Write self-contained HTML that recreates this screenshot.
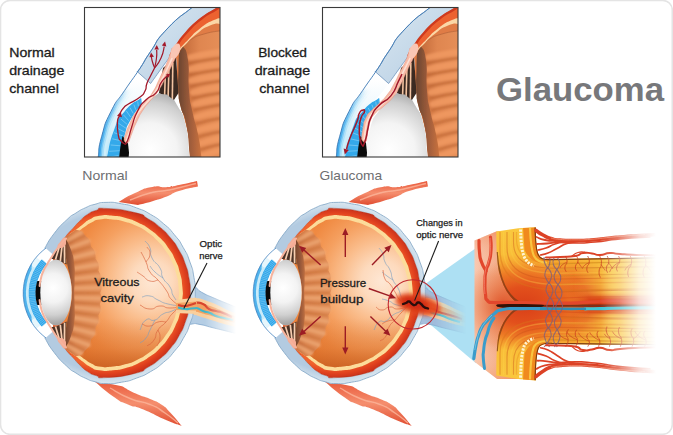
<!DOCTYPE html>
<html><head><meta charset="utf-8"><title>Glaucoma</title>
<style>
html,body{margin:0;padding:0;background:#fff;}
body{width:673px;height:435px;overflow:hidden;}
svg{display:block;}
text{font-family:"Liberation Sans",sans-serif;}
</style></head><body>
<svg width="673" height="435" viewBox="0 0 673 435">
<defs>

<linearGradient id="gSclera" x1="0" y1="0" x2="1" y2="1">
 <stop offset="0" stop-color="#dbe8f1"/><stop offset="1" stop-color="#b2cbe2"/>
</linearGradient>
<radialGradient id="gLensBox" cx="150" cy="150" r="60" gradientUnits="userSpaceOnUse">
 <stop offset="0" stop-color="#ffffff"/><stop offset="0.45" stop-color="#f4f4f4"/><stop offset="0.8" stop-color="#cfcfcf"/><stop offset="1" stop-color="#a8a8a8"/>
</radialGradient>
<linearGradient id="gCornBox" x1="0" y1="80" x2="0" y2="157" gradientUnits="userSpaceOnUse">
 <stop offset="0" stop-color="#ffffff"/><stop offset="0.45" stop-color="#eaf6fc"/><stop offset="1" stop-color="#b9e6f8"/>
</linearGradient>
<linearGradient id="gCornEdgeBox" x1="0" y1="85" x2="0" y2="157" gradientUnits="userSpaceOnUse">
 <stop offset="0" stop-color="#3aa5e6" stop-opacity="0"/><stop offset="0.5" stop-color="#3aa5e6" stop-opacity="0.7"/><stop offset="1" stop-color="#2f9fe8" stop-opacity="1"/>
</linearGradient>
<linearGradient id="gCilBox" x1="184" y1="0" x2="222" y2="0" gradientUnits="userSpaceOnUse">
 <stop offset="0" stop-color="#c66d3c"/><stop offset="0.4" stop-color="#df8650"/><stop offset="1" stop-color="#e68f58"/>
</linearGradient>
<linearGradient id="gBrownBox" x1="0" y1="0" x2="1" y2="0">
 <stop offset="0" stop-color="#6a4530"/><stop offset="0.45" stop-color="#9a5a3a"/><stop offset="1" stop-color="#cc733f"/>
</linearGradient>
<clipPath id="clipBox"><rect x="84.5" y="7.5" width="135.5" height="149.5"/></clipPath>


<radialGradient id="gVit" cx="152" cy="281" r="102" gradientUnits="userSpaceOnUse">
 <stop offset="0" stop-color="#fee7d4"/><stop offset="0.2" stop-color="#fddabd"/><stop offset="0.4" stop-color="#fabd8c"/><stop offset="0.6" stop-color="#f5a060"/><stop offset="0.8" stop-color="#f08a42"/><stop offset="1" stop-color="#eb7c32"/>
</radialGradient>
<radialGradient id="gScleraEye" cx="106" cy="293" r="92" gradientUnits="userSpaceOnUse">
 <stop offset="0.86" stop-color="#b3cbe1"/><stop offset="0.95" stop-color="#cfdfec"/><stop offset="1" stop-color="#dde9f2"/>
</radialGradient>
<radialGradient id="gChor" cx="106" cy="293" r="86" gradientUnits="userSpaceOnUse">
 <stop offset="0.86" stop-color="#f0642e"/><stop offset="0.93" stop-color="#e2431f"/><stop offset="1" stop-color="#c62f1a"/>
</radialGradient>
<radialGradient id="gLensEye" cx="53" cy="288" r="36" gradientUnits="userSpaceOnUse">
 <stop offset="0" stop-color="#ffffff"/><stop offset="0.4" stop-color="#f3f3f3"/><stop offset="0.75" stop-color="#d0d0d0"/><stop offset="1" stop-color="#a5a5a5"/>
</radialGradient>
<linearGradient id="gCilEye" x1="64" y1="0" x2="98" y2="0" gradientUnits="userSpaceOnUse">
 <stop offset="0" stop-color="#c26a3a"/><stop offset="0.35" stop-color="#d9824c"/><stop offset="1" stop-color="#e08c55"/>
</linearGradient>
<linearGradient id="gMuscle" x1="0" y1="0" x2="0" y2="1">
 <stop offset="0" stop-color="#e9583a"/><stop offset="0.5" stop-color="#f58e6e"/><stop offset="1" stop-color="#e04c30"/>
</linearGradient>
<linearGradient id="gFadeR" x1="205" y1="0" x2="236" y2="0" gradientUnits="userSpaceOnUse">
 <stop offset="0" stop-color="#fff"/><stop offset="1" stop-color="#000"/>
</linearGradient>
<mask id="mNerve" maskUnits="userSpaceOnUse" x="150" y="250" width="120" height="120"><rect x="150" y="250" width="120" height="120" fill="url(#gFadeR)"/></mask>


<linearGradient id="gFadeN" x1="600" y1="0" x2="656" y2="0" gradientUnits="userSpaceOnUse">
 <stop offset="0" stop-color="#fff"/><stop offset="0.35" stop-color="#aaa"/><stop offset="0.7" stop-color="#333"/><stop offset="1" stop-color="#000"/>
</linearGradient>
<mask id="mNS" maskUnits="userSpaceOnUse" x="460" y="210" width="213" height="190"><rect x="460" y="210" width="213" height="190" fill="url(#gFadeN)"/></mask>
<radialGradient id="gHot" cx="0.5" cy="0.5" r="0.5">
 <stop offset="0" stop-color="#d93f18"/><stop offset="0.4" stop-color="#e2501c"/><stop offset="0.7" stop-color="#ec7424" stop-opacity="0.8"/><stop offset="1" stop-color="#f4a030" stop-opacity="0"/>
</radialGradient>
<linearGradient id="gFace" x1="474" y1="0" x2="520" y2="0" gradientUnits="userSpaceOnUse">
 <stop offset="0" stop-color="#f8c6ad"/><stop offset="0.45" stop-color="#f4aa84"/><stop offset="1" stop-color="#ea8350"/>
</linearGradient>
<linearGradient id="gFaceV" x1="0" y1="232" x2="0" y2="380" gradientUnits="userSpaceOnUse">
 <stop offset="0" stop-color="#f08a5e" stop-opacity="0.5"/><stop offset="0.3" stop-color="#fff" stop-opacity="0"/><stop offset="0.75" stop-color="#fff" stop-opacity="0"/><stop offset="1" stop-color="#f4a070" stop-opacity="0.5"/>
</linearGradient>
<clipPath id="clipMassU"><path id="massU" d="M496.3 231.4 L518.3 228.3 L535.8 227.2 C536 240 536.5 250 539 255 C541 258.5 545 259.5 552 259 L673 257 L673 305.5 L522 305.5 C511 301 503 288 499 272 C497 262 496.3 250 496.3 231.4Z"/></clipPath>
<clipPath id="clipMassL"><path id="massL" d="M496.3 375.5 L518.3 379.1 L535.8 380.4 C536 365.4 536.5 353.6 539 347.8 C541 344.3 545 343.5 552 343.9 L673 345.6 L673 305.5 L522 305.5 C511 309.2 503 320.0 499 333.2 C497 341.5 496.3 353.6 496.3 375.5Z"/></clipPath>


<filter id="fBlur2" x="-30%" y="-30%" width="160%" height="160%"><feGaussianBlur stdDeviation="2"/></filter>
<filter id="fBlur1" x="-30%" y="-30%" width="160%" height="160%"><feGaussianBlur stdDeviation="1"/></filter>
<filter id="fBlur05" x="-10%" y="-10%" width="120%" height="120%"><feGaussianBlur stdDeviation="0.5"/></filter>


<linearGradient id="gMassV" x1="0" y1="228" x2="0" y2="383" gradientUnits="userSpaceOnUse">
 <stop offset="0" stop-color="#fac83e"/><stop offset="0.17" stop-color="#f9be38"/><stop offset="0.24" stop-color="#f4a02e"/><stop offset="0.31" stop-color="#ec7824"/><stop offset="0.39" stop-color="#e2521c"/><stop offset="0.5" stop-color="#d63c16"/>
 <stop offset="0.59" stop-color="#e2521c"/><stop offset="0.66" stop-color="#ec7824"/><stop offset="0.72" stop-color="#f4a02e"/><stop offset="0.79" stop-color="#f9be38"/><stop offset="1" stop-color="#fac83e"/>
</linearGradient>
<linearGradient id="gYelR" x1="574" y1="0" x2="612" y2="0" gradientUnits="userSpaceOnUse">
 <stop offset="0" stop-color="#fbce48" stop-opacity="0"/><stop offset="1" stop-color="#fbce48" stop-opacity="0.92"/>
</linearGradient>
<radialGradient id="gFaceHot" cx="503" cy="305.5" r="44" gradientUnits="userSpaceOnUse">
 <stop offset="0" stop-color="#dc4a22" stop-opacity="0.9"/><stop offset="0.45" stop-color="#e2602e" stop-opacity="0.5"/><stop offset="1" stop-color="#e8733a" stop-opacity="0"/>
</radialGradient>


<linearGradient id="gDarkFace" x1="64" y1="0" x2="77" y2="0" gradientUnits="userSpaceOnUse">
 <stop offset="0" stop-color="#6e4128"/><stop offset="0.5" stop-color="#98583a"/><stop offset="1" stop-color="#cf7843"/>
</linearGradient>


<linearGradient id="gCornFadeG" x1="0" y1="88" x2="0" y2="150" gradientUnits="userSpaceOnUse">
 <stop offset="0" stop-color="#000"/><stop offset="0.55" stop-color="#999"/><stop offset="1" stop-color="#fff"/>
</linearGradient>
<mask id="mCornFade" maskUnits="userSpaceOnUse" x="80" y="0" width="150" height="170"><rect x="80" y="0" width="150" height="170" fill="url(#gCornFadeG)"/></mask>


<linearGradient id="gVitShade" x1="0" y1="318" x2="0" y2="368" gradientUnits="userSpaceOnUse">
 <stop offset="0" stop-color="#c05a1c" stop-opacity="0"/><stop offset="0.6" stop-color="#c05a1c" stop-opacity="0.22"/><stop offset="1" stop-color="#b8521a" stop-opacity="0.6"/>
</linearGradient>

</defs>
<rect x="0.5" y="0.5" width="671.8" height="433.8" rx="9.5" fill="#fff" stroke="#e4e4e4" stroke-width="1.6"/>
<g id="box1"><g clip-path="url(#clipBox)">
<rect x="84" y="7" width="137" height="151" fill="#fff"/>
<path d="M137.0 71.4C132.8 77.8 133.2 77.4 124.5 90.7C115.8 104.0 118.6 96.2 111.0 111.4C103.4 126.6 106.0 121.1 101.7 136.3C97.4 151.5 99.6 148.4 98.2 157.0C96.8 165.6 97.7 160.3 97.5 162.0L106.0 162.0C106.3 160.3 104.3 167.7 107.0 157.0C109.7 146.3 108.2 145.2 114.0 130.0C119.8 114.8 116.2 122.1 124.5 111.4C132.8 100.7 130.3 107.3 139.0 98.0C147.7 88.7 146.7 88.3 150.6 83.5Z" fill="url(#gCornBox)"/>
<clipPath id="clipCorn0"><path d="M137.0 71.4C132.8 77.8 133.2 77.4 124.5 90.7C115.8 104.0 118.6 96.2 111.0 111.4C103.4 126.6 106.0 121.1 101.7 136.3C97.4 151.5 99.6 148.4 98.2 157.0C96.8 165.6 97.7 160.3 97.5 162.0L106.0 162.0C106.3 160.3 104.3 167.7 107.0 157.0C109.7 146.3 108.2 145.2 114.0 130.0C119.8 114.8 116.2 122.1 124.5 111.4C132.8 100.7 130.3 107.3 139.0 98.0C147.7 88.7 146.7 88.3 150.6 83.5Z"/></clipPath>
<g clip-path="url(#clipCorn0)" filter="url(#fBlur05)">
<path d="M137.0 71.4C132.8 77.8 133.2 77.4 124.5 90.7C115.8 104.0 118.6 96.2 111.0 111.4C103.4 126.6 106.0 121.1 101.7 136.3C97.4 151.5 99.6 148.4 98.2 157.0C96.8 165.6 97.7 160.3 97.5 162.0" fill="none" stroke="#cdeefa" stroke-width="15.0" stroke-opacity="1" mask="url(#mCornFade)"/>
<path d="M137.0 71.4C132.8 77.8 133.2 77.4 124.5 90.7C115.8 104.0 118.6 96.2 111.0 111.4C103.4 126.6 106.0 121.1 101.7 136.3C97.4 151.5 99.6 148.4 98.2 157.0C96.8 165.6 97.7 160.3 97.5 162.0" fill="none" stroke="#a9def7" stroke-width="10.5" stroke-opacity="1" mask="url(#mCornFade)"/>
<path d="M137.0 71.4C132.8 77.8 133.2 77.4 124.5 90.7C115.8 104.0 118.6 96.2 111.0 111.4C103.4 126.6 106.0 121.1 101.7 136.3C97.4 151.5 99.6 148.4 98.2 157.0C96.8 165.6 97.7 160.3 97.5 162.0" fill="none" stroke="#74c6f3" stroke-width="7.0" stroke-opacity="1" mask="url(#mCornFade)"/>
<path d="M137.0 71.4C132.8 77.8 133.2 77.4 124.5 90.7C115.8 104.0 118.6 96.2 111.0 111.4C103.4 126.6 106.0 121.1 101.7 136.3C97.4 151.5 99.6 148.4 98.2 157.0C96.8 165.6 97.7 160.3 97.5 162.0" fill="none" stroke="#40aaec" stroke-width="4.2" stroke-opacity="1" mask="url(#mCornFade)"/>
</g>
<path d="M199.0 2.0C196.7 3.8 202.7 -1.5 192.0 7.5C181.3 16.5 180.9 14.2 167.0 29.0C153.1 43.8 159.4 38.7 150.4 51.8C141.4 64.9 144.5 61.8 140.0 68.3C135.5 74.8 138.0 70.4 137.0 71.4 L150.6 83.5 C154.1 78.7 154.2 78.5 161.0 69.0C167.8 59.5 165.6 63.1 171.0 54.9C176.4 46.7 171.8 52.5 177.3 44.5C182.8 36.5 179.4 40.0 187.6 31.0C195.8 22.0 192.3 25.2 202.0 17.6C211.7 10.0 209.9 12.8 216.6 8.3C223.3 3.8 220.2 5.4 222.0 4.0 L222 0 Z" fill="url(#gSclera)" stroke="#5f88b5" stroke-width="0.7"/>
<path d="M199.0 2.0C196.7 3.8 202.7 -1.5 192.0 7.5C181.3 16.5 180.9 14.2 167.0 29.0C153.1 43.8 159.4 38.7 150.4 51.8C141.4 64.9 148.6 55.3 140.0 68.3C131.4 81.3 134.2 76.3 124.5 90.7C114.8 105.1 118.6 96.2 111.0 111.4C103.4 126.6 106.0 121.1 101.7 136.3C97.4 151.5 99.6 148.4 98.2 157.0C96.8 165.6 97.7 160.3 97.5 162.0" fill="none" stroke="#3c78b4" stroke-width="0.9"/>
<path d="M171.0 54.9C172.7 55.9 173.7 46.3 176.0 58.0C178.3 69.7 174.7 67.7 178.0 90.0C181.3 112.3 180.7 102.7 186.0 125.0C191.3 147.3 191.0 144.7 194.0 157.0C197.0 169.3 194.7 160.3 195.0 162.0 L222 162 L222 4 C173.1 51.4 171.8 52.5 177.3 44.5C182.8 36.5 179.4 40.0 187.6 31.0C195.8 22.0 192.3 25.2 202.0 17.6C211.7 10.0 209.9 12.8 216.6 8.3C223.3 3.8 220.2 5.4 222.0 4.0 Z" fill="#e07c46"/>
<path d="M179.0 53.0C180.3 50.7 179.0 50.5 183.0 46.0C187.0 41.5 184.0 43.5 191.0 39.5C198.0 35.5 193.7 37.0 204.0 34.0C214.3 31.0 216.0 31.7 222.0 30.5 L222 162 L190 162 C189.8 158.7 190.7 164.5 189.5 152.0C188.3 139.5 189.3 139.7 186.3 124.4C183.3 109.1 183.1 117.5 180.5 106.0C177.9 94.5 179.2 102.0 178.5 90.0C177.8 78.0 178.3 82.3 178.5 70.0C178.7 57.7 178.8 58.7 179.0 53.0 Z" fill="url(#gCilBox)"/>
<g filter="url(#fBlur1)">
<path d="M190.0 57.3 C198.0 55.3 212.0 52.9 224 51.5" fill="none" stroke="#f19a62" stroke-width="6" stroke-linecap="round" opacity="0.8"/>
<path d="M190.0 69.2 C198.0 67.2 212.0 64.9 224 63.5" fill="none" stroke="#f19a62" stroke-width="6" stroke-linecap="round" opacity="0.8"/>
<path d="M191.1 80.7 C199.1 78.7 212.0 76.3 224 74.9" fill="none" stroke="#f19a62" stroke-width="6" stroke-linecap="round" opacity="0.8"/>
<path d="M192.7 92.3 C200.7 90.3 212.0 87.9 224 86.5" fill="none" stroke="#f19a62" stroke-width="6" stroke-linecap="round" opacity="0.8"/>
<path d="M194.4 104.1 C202.4 102.1 212.0 99.8 224 98.3" fill="none" stroke="#f19a62" stroke-width="6" stroke-linecap="round" opacity="0.8"/>
<path d="M196.2 116.9 C204.2 114.9 212.0 112.5 224 111.1" fill="none" stroke="#f19a62" stroke-width="6" stroke-linecap="round" opacity="0.8"/>
<path d="M198.1 130.3 C206.1 128.3 212.0 126.0 224 124.5" fill="none" stroke="#f19a62" stroke-width="6" stroke-linecap="round" opacity="0.8"/>
<path d="M199.9 143.4 C207.9 141.4 212.0 139.0 224 137.6" fill="none" stroke="#f19a62" stroke-width="6" stroke-linecap="round" opacity="0.8"/>
<path d="M201.6 156.0 C209.6 154.0 212.0 151.6 224 150.2" fill="none" stroke="#f19a62" stroke-width="6" stroke-linecap="round" opacity="0.8"/>
<path d="M189.0 63.4 C197.0 61.4 212.0 59.0 224 57.6" fill="none" stroke="#b9602f" stroke-width="2.6" stroke-linecap="round" opacity="0.6"/>
<path d="M189.3 75.1 C197.3 73.1 212.0 70.7 224 69.3" fill="none" stroke="#b9602f" stroke-width="2.6" stroke-linecap="round" opacity="0.6"/>
<path d="M190.9 86.3 C198.9 84.3 212.0 81.9 224 80.5" fill="none" stroke="#b9602f" stroke-width="2.6" stroke-linecap="round" opacity="0.6"/>
<path d="M192.6 98.3 C200.6 96.3 212.0 93.9 224 92.5" fill="none" stroke="#b9602f" stroke-width="2.6" stroke-linecap="round" opacity="0.6"/>
<path d="M194.2 110.0 C202.2 108.0 212.0 105.6 224 104.2" fill="none" stroke="#b9602f" stroke-width="2.6" stroke-linecap="round" opacity="0.6"/>
<path d="M196.1 123.7 C204.1 121.7 212.0 119.3 224 117.9" fill="none" stroke="#b9602f" stroke-width="2.6" stroke-linecap="round" opacity="0.6"/>
<path d="M198.0 137.0 C206.0 135.0 212.0 132.6 224 131.2" fill="none" stroke="#b9602f" stroke-width="2.6" stroke-linecap="round" opacity="0.6"/>
<path d="M199.8 149.7 C207.8 147.7 212.0 145.3 224 143.9" fill="none" stroke="#b9602f" stroke-width="2.6" stroke-linecap="round" opacity="0.6"/>
</g>
<path d="M179.0 53.0C178.8 58.7 178.7 57.7 178.5 70.0C178.3 82.3 177.8 78.0 178.5 90.0C179.2 102.0 177.9 94.5 180.5 106.0C183.1 117.5 183.3 109.1 186.3 124.4C189.3 139.7 188.3 139.5 189.5 152.0C190.7 164.5 189.8 158.7 190.0 162.0 L202.0 162.0 C201.8 160.3 202.8 166.3 201.5 157.0C200.2 147.7 201.0 149.0 198.0 134.0C195.0 119.0 195.5 126.7 192.5 112.0C189.5 97.3 190.5 107.3 189.0 90.0C187.5 72.7 190.0 74.7 188.0 60.0C186.0 45.3 184.7 50.7 183.0 46.0 Z" fill="url(#gBrownBox)" filter="url(#fBlur05)"/>
<path d="M179.0 53.0C180.3 50.7 179.0 50.5 183.0 46.0C187.0 41.5 184.0 43.5 191.0 39.5C198.0 35.5 193.7 37.0 204.0 34.0C214.3 31.0 216.0 31.7 222.0 30.5" fill="none" stroke="#a85c34" stroke-width="0.8" opacity="0.7"/>
<path d="M222.0 24.0C218.0 24.5 218.7 22.0 210.0 25.5C201.3 29.0 204.0 28.3 196.0 34.5C188.0 40.7 191.0 39.2 186.0 44.0C181.0 48.8 184.3 45.0 181.0 49.0C177.7 53.0 177.7 53.7 176.0 56.0 L171 54.9 C173.1 51.4 171.8 52.5 177.3 44.5C182.8 36.5 179.4 40.0 187.6 31.0C195.8 22.0 192.3 25.2 202.0 17.6C211.7 10.0 209.9 12.8 216.6 8.3C223.3 3.8 220.2 5.4 222.0 4.0 Z" fill="#fbd7a6"/>
<path d="M222.0 18.5C219.3 19.0 221.3 16.7 214.0 20.0C206.7 23.3 208.7 21.8 200.0 28.5C191.3 35.2 194.7 33.3 188.0 40.0C181.3 46.7 185.0 43.0 180.0 48.5C175.0 54.0 175.3 53.8 173.0 56.5 L171 54.9 C173.1 51.4 171.8 52.5 177.3 44.5C182.8 36.5 179.4 40.0 187.6 31.0C195.8 22.0 192.3 25.2 202.0 17.6C211.7 10.0 209.9 12.8 216.6 8.3C223.3 3.8 220.2 5.4 222.0 4.0 Z" fill="#ec6230"/>
<path d="M221.2 5.2C219.4 6.6 222.5 5.0 215.8 9.5C209.1 14.0 210.9 11.2 201.2 18.8C191.5 26.4 195.0 23.2 186.8 32.2C178.6 41.2 182.0 37.7 176.5 45.7C171.0 53.7 172.3 52.6 170.2 56.1" fill="none" stroke="#cf3a1e" stroke-width="2.4"/>
<path d="M163 68 L176 57 L178.5 93 L172 103 L158 99 Z" fill="#3b2a22"/>
<path d="M165.5 69.0 L164.5 99.0" stroke="#f3c4a2" stroke-width="1.6"/>
<path d="M169.0 66.0 L168.0 100.0" stroke="#f3c4a2" stroke-width="1.6"/>
<path d="M172.8 63.0 L172.3 101.0" stroke="#f3c4a2" stroke-width="1.6"/>
<path d="M141.0 98.0C135.5 102.5 133.5 100.7 124.5 111.4C115.5 122.1 119.8 114.8 114.0 130.0C108.2 145.2 109.7 146.3 107.0 157.0C104.3 167.7 106.3 160.3 106.0 162.0 L119.0 162.0 C119.2 160.3 117.7 165.7 119.5 157.0C121.3 148.3 120.8 148.4 124.5 136.0C128.2 123.6 124.9 130.4 130.7 119.7C136.5 109.0 138.2 109.2 142.0 104.0 Z" fill="#34a9ea"/>
<path d="M141.5 98.5 L141.0 102.5" stroke="#8fd4f6" stroke-width="0.9" opacity="0.7"/>
<path d="M137.7 101.6 L138.4 106.1" stroke="#8fd4f6" stroke-width="0.9" opacity="0.7"/>
<path d="M133.9 104.7 L135.8 109.7" stroke="#8fd4f6" stroke-width="0.9" opacity="0.7"/>
<path d="M130.1 107.8 L133.2 113.4" stroke="#8fd4f6" stroke-width="0.9" opacity="0.7"/>
<path d="M126.3 110.9 L130.6 117.0" stroke="#8fd4f6" stroke-width="0.9" opacity="0.7"/>
<path d="M123.4 114.8 L128.7 120.7" stroke="#8fd4f6" stroke-width="0.9" opacity="0.7"/>
<path d="M121.0 119.1 L127.3 124.5" stroke="#8fd4f6" stroke-width="0.9" opacity="0.7"/>
<path d="M118.5 123.3 L125.9 128.2" stroke="#8fd4f6" stroke-width="0.9" opacity="0.7"/>
<path d="M116.1 127.6 L124.5 132.0" stroke="#8fd4f6" stroke-width="0.9" opacity="0.7"/>
<path d="M114.0 132.6 L123.1 136.1" stroke="#8fd4f6" stroke-width="0.9" opacity="0.7"/>
<path d="M112.3 138.8 L122.0 141.0" stroke="#8fd4f6" stroke-width="0.9" opacity="0.7"/>
<path d="M110.7 145.0 L120.8 145.8" stroke="#8fd4f6" stroke-width="0.9" opacity="0.7"/>
<path d="M109.1 151.3 L119.7 150.7" stroke="#8fd4f6" stroke-width="0.9" opacity="0.7"/>
<path d="M107.5 157.5 L118.5 155.5" stroke="#8fd4f6" stroke-width="0.9" opacity="0.7"/>
<path d="M122.5 136 L128 143 L130 162 L118.5 162 L120.5 146 Z" fill="#0a0a0a"/>
<path d="M128.5 162.0C128.6 160.3 127.6 167.7 128.7 157.0C129.8 146.3 127.4 145.9 131.8 130.0C136.2 114.1 134.3 120.6 142.0 109.3C149.7 98.0 148.0 101.0 155.0 96.0C162.0 91.0 157.8 93.8 163.0 94.3C168.2 94.8 165.6 93.6 170.5 97.5C175.4 101.4 172.6 97.0 177.6 106.0C182.6 115.0 181.8 109.1 185.6 124.4C189.4 139.7 187.7 139.5 189.0 152.0C190.3 164.5 189.3 158.7 189.5 162.0Z" fill="url(#gLensBox)"/>
<path d="M172.0 48.0C170.8 51.8 172.2 49.6 168.3 59.3C164.4 69.0 165.7 65.8 160.3 77.0C154.9 88.2 157.6 84.3 152.2 93.0C146.8 101.7 149.6 96.7 144.2 103.0C138.8 109.3 140.7 105.3 136.0 112.0C131.3 118.7 133.5 115.7 130.0 123.0C126.5 130.3 127.5 128.3 125.5 134.0C123.5 139.7 124.5 138.0 124.0 140.0 Q125.6 145.0 128.8 142.0 C129.9 139.0 129.3 140.0 132.0 133.0C134.7 126.0 133.3 128.7 137.0 121.0C140.7 113.3 138.7 116.7 143.0 110.0C147.3 103.3 145.1 107.2 150.0 101.0C154.9 94.8 152.5 99.5 157.8 91.5C163.1 83.5 159.8 88.8 166.0 77.0C172.2 65.2 172.1 65.0 176.4 56.0C180.7 47.0 178.1 52.0 179.0 50.0 Z" fill="#f8bba6" stroke="#e79280" stroke-width="0.5"/>
<path d="M172.4 57.6C169.3 64.1 168.9 65.5 163.2 77.0C157.4 88.5 160.3 83.9 155.0 92.2C149.7 100.6 152.3 95.8 147.1 102.0C141.9 108.2 144.0 104.3 139.5 111.0C135.0 117.7 137.1 114.5 133.5 122.0C129.9 129.5 131.1 127.2 128.8 133.5C126.4 139.8 127.2 138.5 126.4 141.0" fill="none" stroke="#fde3d8" stroke-width="1.6" opacity="0.9"/>
<ellipse cx="175.5" cy="51" rx="4.2" ry="8" transform="rotate(22 175.5 51)" fill="#f9c6b4"/>
<path d="M125.5 144.5C126.5 142.3 126.3 144.2 128.5 138.0C130.7 131.8 129.0 135.0 132.0 126.0C135.0 117.0 133.0 119.7 137.6 111.0C142.2 102.3 139.7 106.0 145.8 100.0C151.9 94.0 151.1 98.3 156.0 92.9C160.9 87.5 157.5 88.7 160.5 83.7C163.5 78.7 162.4 80.7 165.0 78.0C167.6 75.3 167.2 76.3 168.3 75.5" fill="none" stroke="#a3182a" stroke-width="1.3"/>
<path d="M0 -2.4 L2 1.8 L-2 1.8 Z" transform="translate(168.6 75) rotate(50)" fill="#a3182a"/>
<path d="M125.5 144.5C124.0 143.3 123.4 144.2 121.0 141.0C118.6 137.8 119.5 141.2 118.3 135.0C117.1 128.8 117.0 128.6 117.4 122.3C117.8 116.0 118.8 118.1 119.5 116.0" fill="none" stroke="#a3182a" stroke-width="1.3"/>
<path d="M0 -3 L2.6 2.2 L-2.6 2.2 Z" transform="translate(120 114.5) rotate(14)" fill="#a3182a"/>
<path d="M120.3 113.0C121.4 111.3 120.8 111.0 123.5 108.0C126.2 105.0 123.1 107.5 128.4 104.0C133.7 100.5 133.9 101.8 139.4 97.5C144.9 93.2 142.5 95.6 145.0 91.0C147.5 86.4 145.0 88.7 146.8 83.7C148.6 78.7 147.9 81.2 150.5 76.0C153.1 70.8 153.2 70.7 154.6 68.0" fill="none" stroke="#a3182a" stroke-width="1.3"/>
<path d="M154.6 68.0C153.9 66.0 153.6 65.7 152.5 62.0C151.4 58.3 151.8 58.7 151.4 57.0" fill="none" stroke="#a3182a" stroke-width="1.2"/>
<path d="M154.6 68.0C155.2 64.7 155.8 64.0 156.5 58.0C157.2 52.0 156.6 52.7 156.7 50.0" fill="none" stroke="#a3182a" stroke-width="1.2"/>
<path d="M154.6 68.0C156.7 64.7 157.8 65.2 161.0 58.0C164.2 50.8 163.2 50.3 164.3 46.5" fill="none" stroke="#a3182a" stroke-width="1.2"/>
<path d="M0 -2.6 L2.3 2 L-2.3 2 Z" transform="translate(151.4 55.0) rotate(-8)" fill="#a3182a"/>
<path d="M0 -2.6 L2.3 2 L-2.3 2 Z" transform="translate(156.7 47.5) rotate(2)" fill="#a3182a"/>
<path d="M0 -2.6 L2.3 2 L-2.3 2 Z" transform="translate(164.5 44.0) rotate(12)" fill="#a3182a"/>
</g>
<rect x="84.5" y="7.5" width="135.5" height="149.5" fill="none" stroke="#3a3a3a" stroke-width="1.1"/></g>
<g id="box2" transform="translate(238 0)"><g clip-path="url(#clipBox)">
<rect x="84" y="7" width="137" height="151" fill="#fff"/>
<path d="M137.0 71.4C132.8 77.8 133.2 77.4 124.5 90.7C115.8 104.0 118.6 96.2 111.0 111.4C103.4 126.6 106.0 121.1 101.7 136.3C97.4 151.5 99.6 148.4 98.2 157.0C96.8 165.6 97.7 160.3 97.5 162.0L106.0 162.0C106.3 160.3 104.3 167.7 107.0 157.0C109.7 146.3 108.2 145.2 114.0 130.0C119.8 114.8 116.2 122.1 124.5 111.4C132.8 100.7 130.3 107.3 139.0 98.0C147.7 88.7 146.7 88.3 150.6 83.5Z" fill="url(#gCornBox)"/>
<clipPath id="clipCorn1"><path d="M137.0 71.4C132.8 77.8 133.2 77.4 124.5 90.7C115.8 104.0 118.6 96.2 111.0 111.4C103.4 126.6 106.0 121.1 101.7 136.3C97.4 151.5 99.6 148.4 98.2 157.0C96.8 165.6 97.7 160.3 97.5 162.0L106.0 162.0C106.3 160.3 104.3 167.7 107.0 157.0C109.7 146.3 108.2 145.2 114.0 130.0C119.8 114.8 116.2 122.1 124.5 111.4C132.8 100.7 130.3 107.3 139.0 98.0C147.7 88.7 146.7 88.3 150.6 83.5Z"/></clipPath>
<g clip-path="url(#clipCorn1)" filter="url(#fBlur05)">
<path d="M137.0 71.4C132.8 77.8 133.2 77.4 124.5 90.7C115.8 104.0 118.6 96.2 111.0 111.4C103.4 126.6 106.0 121.1 101.7 136.3C97.4 151.5 99.6 148.4 98.2 157.0C96.8 165.6 97.7 160.3 97.5 162.0" fill="none" stroke="#cdeefa" stroke-width="15.0" stroke-opacity="1" mask="url(#mCornFade)"/>
<path d="M137.0 71.4C132.8 77.8 133.2 77.4 124.5 90.7C115.8 104.0 118.6 96.2 111.0 111.4C103.4 126.6 106.0 121.1 101.7 136.3C97.4 151.5 99.6 148.4 98.2 157.0C96.8 165.6 97.7 160.3 97.5 162.0" fill="none" stroke="#a9def7" stroke-width="10.5" stroke-opacity="1" mask="url(#mCornFade)"/>
<path d="M137.0 71.4C132.8 77.8 133.2 77.4 124.5 90.7C115.8 104.0 118.6 96.2 111.0 111.4C103.4 126.6 106.0 121.1 101.7 136.3C97.4 151.5 99.6 148.4 98.2 157.0C96.8 165.6 97.7 160.3 97.5 162.0" fill="none" stroke="#74c6f3" stroke-width="7.0" stroke-opacity="1" mask="url(#mCornFade)"/>
<path d="M137.0 71.4C132.8 77.8 133.2 77.4 124.5 90.7C115.8 104.0 118.6 96.2 111.0 111.4C103.4 126.6 106.0 121.1 101.7 136.3C97.4 151.5 99.6 148.4 98.2 157.0C96.8 165.6 97.7 160.3 97.5 162.0" fill="none" stroke="#40aaec" stroke-width="4.2" stroke-opacity="1" mask="url(#mCornFade)"/>
</g>
<path d="M199.0 2.0C196.7 3.8 202.7 -1.5 192.0 7.5C181.3 16.5 180.9 14.2 167.0 29.0C153.1 43.8 159.4 38.7 150.4 51.8C141.4 64.9 144.5 61.8 140.0 68.3C135.5 74.8 138.0 70.4 137.0 71.4 L150.6 83.5 C154.1 78.7 154.2 78.5 161.0 69.0C167.8 59.5 165.6 63.1 171.0 54.9C176.4 46.7 171.8 52.5 177.3 44.5C182.8 36.5 179.4 40.0 187.6 31.0C195.8 22.0 192.3 25.2 202.0 17.6C211.7 10.0 209.9 12.8 216.6 8.3C223.3 3.8 220.2 5.4 222.0 4.0 L222 0 Z" fill="url(#gSclera)" stroke="#5f88b5" stroke-width="0.7"/>
<path d="M199.0 2.0C196.7 3.8 202.7 -1.5 192.0 7.5C181.3 16.5 180.9 14.2 167.0 29.0C153.1 43.8 159.4 38.7 150.4 51.8C141.4 64.9 148.6 55.3 140.0 68.3C131.4 81.3 134.2 76.3 124.5 90.7C114.8 105.1 118.6 96.2 111.0 111.4C103.4 126.6 106.0 121.1 101.7 136.3C97.4 151.5 99.6 148.4 98.2 157.0C96.8 165.6 97.7 160.3 97.5 162.0" fill="none" stroke="#3c78b4" stroke-width="0.9"/>
<path d="M171.0 54.9C172.7 55.9 173.7 46.3 176.0 58.0C178.3 69.7 174.7 67.7 178.0 90.0C181.3 112.3 180.7 102.7 186.0 125.0C191.3 147.3 191.0 144.7 194.0 157.0C197.0 169.3 194.7 160.3 195.0 162.0 L222 162 L222 4 C173.1 51.4 171.8 52.5 177.3 44.5C182.8 36.5 179.4 40.0 187.6 31.0C195.8 22.0 192.3 25.2 202.0 17.6C211.7 10.0 209.9 12.8 216.6 8.3C223.3 3.8 220.2 5.4 222.0 4.0 Z" fill="#e07c46"/>
<path d="M179.0 53.0C180.3 50.7 179.0 50.5 183.0 46.0C187.0 41.5 184.0 43.5 191.0 39.5C198.0 35.5 193.7 37.0 204.0 34.0C214.3 31.0 216.0 31.7 222.0 30.5 L222 162 L190 162 C189.8 158.7 190.7 164.5 189.5 152.0C188.3 139.5 189.3 139.7 186.3 124.4C183.3 109.1 183.1 117.5 180.5 106.0C177.9 94.5 179.2 102.0 178.5 90.0C177.8 78.0 178.3 82.3 178.5 70.0C178.7 57.7 178.8 58.7 179.0 53.0 Z" fill="url(#gCilBox)"/>
<g filter="url(#fBlur1)">
<path d="M190.0 57.3 C198.0 55.3 212.0 52.9 224 51.5" fill="none" stroke="#f19a62" stroke-width="6" stroke-linecap="round" opacity="0.8"/>
<path d="M190.0 69.2 C198.0 67.2 212.0 64.9 224 63.5" fill="none" stroke="#f19a62" stroke-width="6" stroke-linecap="round" opacity="0.8"/>
<path d="M191.1 80.7 C199.1 78.7 212.0 76.3 224 74.9" fill="none" stroke="#f19a62" stroke-width="6" stroke-linecap="round" opacity="0.8"/>
<path d="M192.7 92.3 C200.7 90.3 212.0 87.9 224 86.5" fill="none" stroke="#f19a62" stroke-width="6" stroke-linecap="round" opacity="0.8"/>
<path d="M194.4 104.1 C202.4 102.1 212.0 99.8 224 98.3" fill="none" stroke="#f19a62" stroke-width="6" stroke-linecap="round" opacity="0.8"/>
<path d="M196.2 116.9 C204.2 114.9 212.0 112.5 224 111.1" fill="none" stroke="#f19a62" stroke-width="6" stroke-linecap="round" opacity="0.8"/>
<path d="M198.1 130.3 C206.1 128.3 212.0 126.0 224 124.5" fill="none" stroke="#f19a62" stroke-width="6" stroke-linecap="round" opacity="0.8"/>
<path d="M199.9 143.4 C207.9 141.4 212.0 139.0 224 137.6" fill="none" stroke="#f19a62" stroke-width="6" stroke-linecap="round" opacity="0.8"/>
<path d="M201.6 156.0 C209.6 154.0 212.0 151.6 224 150.2" fill="none" stroke="#f19a62" stroke-width="6" stroke-linecap="round" opacity="0.8"/>
<path d="M189.0 63.4 C197.0 61.4 212.0 59.0 224 57.6" fill="none" stroke="#b9602f" stroke-width="2.6" stroke-linecap="round" opacity="0.6"/>
<path d="M189.3 75.1 C197.3 73.1 212.0 70.7 224 69.3" fill="none" stroke="#b9602f" stroke-width="2.6" stroke-linecap="round" opacity="0.6"/>
<path d="M190.9 86.3 C198.9 84.3 212.0 81.9 224 80.5" fill="none" stroke="#b9602f" stroke-width="2.6" stroke-linecap="round" opacity="0.6"/>
<path d="M192.6 98.3 C200.6 96.3 212.0 93.9 224 92.5" fill="none" stroke="#b9602f" stroke-width="2.6" stroke-linecap="round" opacity="0.6"/>
<path d="M194.2 110.0 C202.2 108.0 212.0 105.6 224 104.2" fill="none" stroke="#b9602f" stroke-width="2.6" stroke-linecap="round" opacity="0.6"/>
<path d="M196.1 123.7 C204.1 121.7 212.0 119.3 224 117.9" fill="none" stroke="#b9602f" stroke-width="2.6" stroke-linecap="round" opacity="0.6"/>
<path d="M198.0 137.0 C206.0 135.0 212.0 132.6 224 131.2" fill="none" stroke="#b9602f" stroke-width="2.6" stroke-linecap="round" opacity="0.6"/>
<path d="M199.8 149.7 C207.8 147.7 212.0 145.3 224 143.9" fill="none" stroke="#b9602f" stroke-width="2.6" stroke-linecap="round" opacity="0.6"/>
</g>
<path d="M179.0 53.0C178.8 58.7 178.7 57.7 178.5 70.0C178.3 82.3 177.8 78.0 178.5 90.0C179.2 102.0 177.9 94.5 180.5 106.0C183.1 117.5 183.3 109.1 186.3 124.4C189.3 139.7 188.3 139.5 189.5 152.0C190.7 164.5 189.8 158.7 190.0 162.0 L202.0 162.0 C201.8 160.3 202.8 166.3 201.5 157.0C200.2 147.7 201.0 149.0 198.0 134.0C195.0 119.0 195.5 126.7 192.5 112.0C189.5 97.3 190.5 107.3 189.0 90.0C187.5 72.7 190.0 74.7 188.0 60.0C186.0 45.3 184.7 50.7 183.0 46.0 Z" fill="url(#gBrownBox)" filter="url(#fBlur05)"/>
<path d="M179.0 53.0C180.3 50.7 179.0 50.5 183.0 46.0C187.0 41.5 184.0 43.5 191.0 39.5C198.0 35.5 193.7 37.0 204.0 34.0C214.3 31.0 216.0 31.7 222.0 30.5" fill="none" stroke="#a85c34" stroke-width="0.8" opacity="0.7"/>
<path d="M222.0 24.0C218.0 24.5 218.7 22.0 210.0 25.5C201.3 29.0 204.0 28.3 196.0 34.5C188.0 40.7 191.0 39.2 186.0 44.0C181.0 48.8 184.3 45.0 181.0 49.0C177.7 53.0 177.7 53.7 176.0 56.0 L171 54.9 C173.1 51.4 171.8 52.5 177.3 44.5C182.8 36.5 179.4 40.0 187.6 31.0C195.8 22.0 192.3 25.2 202.0 17.6C211.7 10.0 209.9 12.8 216.6 8.3C223.3 3.8 220.2 5.4 222.0 4.0 Z" fill="#fbd7a6"/>
<path d="M222.0 18.5C219.3 19.0 221.3 16.7 214.0 20.0C206.7 23.3 208.7 21.8 200.0 28.5C191.3 35.2 194.7 33.3 188.0 40.0C181.3 46.7 185.0 43.0 180.0 48.5C175.0 54.0 175.3 53.8 173.0 56.5 L171 54.9 C173.1 51.4 171.8 52.5 177.3 44.5C182.8 36.5 179.4 40.0 187.6 31.0C195.8 22.0 192.3 25.2 202.0 17.6C211.7 10.0 209.9 12.8 216.6 8.3C223.3 3.8 220.2 5.4 222.0 4.0 Z" fill="#ec6230"/>
<path d="M221.2 5.2C219.4 6.6 222.5 5.0 215.8 9.5C209.1 14.0 210.9 11.2 201.2 18.8C191.5 26.4 195.0 23.2 186.8 32.2C178.6 41.2 182.0 37.7 176.5 45.7C171.0 53.7 172.3 52.6 170.2 56.1" fill="none" stroke="#cf3a1e" stroke-width="2.4"/>
<path d="M163 68 L176 57 L178.5 93 L172 103 L158 99 Z" fill="#3b2a22"/>
<path d="M165.5 69.0 L164.5 99.0" stroke="#f3c4a2" stroke-width="1.6"/>
<path d="M169.0 66.0 L168.0 100.0" stroke="#f3c4a2" stroke-width="1.6"/>
<path d="M172.8 63.0 L172.3 101.0" stroke="#f3c4a2" stroke-width="1.6"/>
<path d="M141.0 98.0C135.5 102.5 133.5 100.7 124.5 111.4C115.5 122.1 119.8 114.8 114.0 130.0C108.2 145.2 109.7 146.3 107.0 157.0C104.3 167.7 106.3 160.3 106.0 162.0 L119.0 162.0 C119.2 160.3 117.7 165.7 119.5 157.0C121.3 148.3 120.8 148.4 124.5 136.0C128.2 123.6 124.9 130.4 130.7 119.7C136.5 109.0 138.2 109.2 142.0 104.0 Z" fill="#34a9ea"/>
<path d="M141.5 98.5 L141.0 102.5" stroke="#8fd4f6" stroke-width="0.9" opacity="0.7"/>
<path d="M137.7 101.6 L138.4 106.1" stroke="#8fd4f6" stroke-width="0.9" opacity="0.7"/>
<path d="M133.9 104.7 L135.8 109.7" stroke="#8fd4f6" stroke-width="0.9" opacity="0.7"/>
<path d="M130.1 107.8 L133.2 113.4" stroke="#8fd4f6" stroke-width="0.9" opacity="0.7"/>
<path d="M126.3 110.9 L130.6 117.0" stroke="#8fd4f6" stroke-width="0.9" opacity="0.7"/>
<path d="M123.4 114.8 L128.7 120.7" stroke="#8fd4f6" stroke-width="0.9" opacity="0.7"/>
<path d="M121.0 119.1 L127.3 124.5" stroke="#8fd4f6" stroke-width="0.9" opacity="0.7"/>
<path d="M118.5 123.3 L125.9 128.2" stroke="#8fd4f6" stroke-width="0.9" opacity="0.7"/>
<path d="M116.1 127.6 L124.5 132.0" stroke="#8fd4f6" stroke-width="0.9" opacity="0.7"/>
<path d="M114.0 132.6 L123.1 136.1" stroke="#8fd4f6" stroke-width="0.9" opacity="0.7"/>
<path d="M112.3 138.8 L122.0 141.0" stroke="#8fd4f6" stroke-width="0.9" opacity="0.7"/>
<path d="M110.7 145.0 L120.8 145.8" stroke="#8fd4f6" stroke-width="0.9" opacity="0.7"/>
<path d="M109.1 151.3 L119.7 150.7" stroke="#8fd4f6" stroke-width="0.9" opacity="0.7"/>
<path d="M107.5 157.5 L118.5 155.5" stroke="#8fd4f6" stroke-width="0.9" opacity="0.7"/>
<path d="M122.5 136 L128 143 L130 162 L118.5 162 L120.5 146 Z" fill="#0a0a0a"/>
<path d="M128.5 162.0C128.6 160.3 127.6 167.7 128.7 157.0C129.8 146.3 127.4 145.9 131.8 130.0C136.2 114.1 134.3 120.6 142.0 109.3C149.7 98.0 148.0 101.0 155.0 96.0C162.0 91.0 157.8 93.8 163.0 94.3C168.2 94.8 165.6 93.6 170.5 97.5C175.4 101.4 172.6 97.0 177.6 106.0C182.6 115.0 181.8 109.1 185.6 124.4C189.4 139.7 187.7 139.5 189.0 152.0C190.3 164.5 189.3 158.7 189.5 162.0Z" fill="url(#gLensBox)"/>
<path d="M172.0 48.0C170.8 51.8 171.6 51.3 168.3 59.3C165.0 67.3 166.1 63.8 162.0 72.0C157.9 80.2 160.3 76.3 156.0 84.0C151.7 91.7 154.0 88.5 149.0 95.0C144.0 101.5 146.0 98.5 141.0 103.5C136.0 108.5 138.3 105.3 134.0 110.0C129.7 114.7 131.0 111.5 128.0 117.5C125.0 123.5 126.5 120.8 125.0 128.0C123.5 135.2 124.0 135.3 123.5 139.0 Q125.2 144.0 128.5 141.0 C129.0 137.7 128.8 137.3 130.0 131.0C131.2 124.7 129.7 127.8 132.0 122.0C134.3 116.2 132.3 118.8 137.0 113.5C141.7 108.2 139.8 111.7 146.0 106.0C152.2 100.3 150.2 103.2 155.5 96.5C160.8 89.8 157.7 94.2 162.0 86.0C166.3 77.8 163.7 82.0 168.5 72.0C173.3 62.0 172.9 63.3 176.4 56.0C179.9 48.7 178.1 52.0 179.0 50.0 Z" fill="#f8bba6" stroke="#e79280" stroke-width="0.5"/>
<path d="M172.4 57.6C170.0 62.4 169.7 62.9 165.2 72.0C160.8 81.1 163.3 77.1 159.0 85.0C154.7 92.9 157.4 89.2 152.2 95.8C147.1 102.3 149.1 99.4 143.5 104.8C137.9 110.1 140.0 106.8 135.5 111.8C131.0 116.8 132.7 113.8 130.0 119.8C127.3 125.7 128.8 122.8 127.5 129.5C126.2 136.2 126.5 136.5 126.0 140.0" fill="none" stroke="#fde3d8" stroke-width="1.6" opacity="0.9"/>
<ellipse cx="175.5" cy="51" rx="4.2" ry="8" transform="rotate(22 175.5 51)" fill="#f9c6b4"/>
<path d="M164.0 74.0C162.7 76.6 163.9 74.6 160.2 81.8C156.5 89.0 159.4 87.7 153.0 95.6C146.6 103.5 147.5 98.6 141.0 105.5C134.5 112.4 137.2 108.8 133.5 116.3C129.8 123.8 131.8 120.8 130.0 128.0C128.2 135.2 129.7 131.8 128.0 138.0C126.3 144.2 126.0 143.7 125.0 146.5" fill="none" stroke="#a3182a" stroke-width="1.5"/>
<path d="M125.0 146.5C124.1 144.3 123.5 145.8 122.3 140.0C121.1 134.2 121.1 136.3 121.3 129.0C121.5 121.7 121.3 123.7 123.0 118.0C124.7 112.3 126.1 114.4 126.5 111.8C126.9 109.2 126.0 109.6 124.2 110.3C122.4 111.0 122.8 110.1 121.0 114.0C119.2 117.9 121.8 114.0 118.8 122.0C115.8 130.0 115.4 129.0 112.0 138.0C108.6 147.0 109.7 145.3 108.5 149.0" fill="none" stroke="#a3182a" stroke-width="1.5"/>
<path d="M0 3 L2.7 -2.3 L-2.7 -2.3 Z" transform="translate(107.6 151.5) rotate(16)" fill="#a3182a"/>
</g>
<rect x="84.5" y="7.5" width="135.5" height="149.5" fill="none" stroke="#3a3a3a" stroke-width="1.1"/></g>
<path d="M402 300.4 L476 248 L476 363.2 Z" fill="#ade0f3"/>
<g id="eye1"><g mask="url(#mNerve)">
<path d="M186.0 280.0C188.3 281.5 189.3 281.7 193.0 284.5C196.7 287.3 193.7 285.7 197.0 288.5C200.3 291.3 197.0 289.7 203.0 293.0C209.0 296.3 205.8 294.5 215.0 298.5C224.2 302.5 220.7 300.8 230.7 305.0C240.7 309.2 240.2 309.0 245.0 311.0L240.0 334.5C235.0 333.2 234.3 333.0 225.0 330.7C215.7 328.4 220.3 329.6 212.0 327.5C203.7 325.4 206.7 325.7 200.0 324.5C193.3 323.3 196.7 323.3 192.0 324.0C187.3 324.7 190.0 324.5 186.0 326.5C182.0 328.5 182.0 328.8 180.0 330.0Z" fill="#b4cde4"/>
<path d="M186.0 280.0C188.3 281.5 189.3 281.7 193.0 284.5C196.7 287.3 193.7 285.7 197.0 288.5C200.3 291.3 197.0 289.7 203.0 293.0C209.0 296.3 205.8 294.5 215.0 298.5C224.2 302.5 220.7 300.8 230.7 305.0C240.7 309.2 240.2 309.0 245.0 311.0" fill="none" stroke="#7fa6cc" stroke-width="0.8"/>
<path d="M180.0 330.0C182.0 328.8 182.0 328.5 186.0 326.5C190.0 324.5 187.3 324.7 192.0 324.0C196.7 323.3 193.3 323.3 200.0 324.5C206.7 325.7 203.7 325.4 212.0 327.5C220.3 329.6 215.7 328.4 225.0 330.7C234.3 333.0 235.0 333.2 240.0 334.5" fill="none" stroke="#7fa6cc" stroke-width="0.8"/>
<path d="M180.0 297.0C184.3 297.2 183.0 295.8 193.0 297.5C203.0 299.2 197.0 297.2 210.0 302.0C223.0 306.8 220.3 307.0 232.0 312.0C243.7 317.0 240.7 315.3 245.0 317.0L245.0 329.0C239.3 327.7 240.3 328.3 228.0 325.0C215.7 321.7 220.7 322.7 208.0 319.0C195.3 315.3 199.3 315.7 190.0 314.0C180.7 312.3 183.3 314.0 180.0 314.0Z" fill="#f9cf9d"/>
<path d="M180.0 301.0C184.3 301.2 183.0 299.8 193.0 301.5C203.0 303.2 197.0 301.5 210.0 306.0C223.0 310.5 220.3 310.3 232.0 315.0C243.7 319.7 240.7 318.3 245.0 320.0L245.0 325.0C239.3 323.7 240.3 324.3 228.0 321.0C215.7 317.7 220.7 318.5 208.0 315.0C195.3 311.5 199.3 312.2 190.0 310.5C180.7 308.8 183.3 310.2 180.0 310.0Z" fill="#f4a060"/>
<path d="M181.0 305.0C183.3 305.3 183.3 306.7 188.0 306.0C192.7 305.3 190.0 303.7 195.0 303.0C200.0 302.3 198.3 302.0 203.0 304.0C207.7 306.0 204.7 306.7 209.0 309.0C213.3 311.3 211.3 309.7 216.0 311.0C220.7 312.3 217.7 311.0 223.0 313.0C228.3 315.0 229.0 315.7 232.0 317.0" fill="none" stroke="#d8452c" stroke-width="2.2"/>
<path d="M181.0 307.0C183.7 307.7 184.0 308.7 189.0 309.0C194.0 309.3 191.3 307.3 196.0 308.0C200.7 308.7 198.3 309.3 203.0 311.0C207.7 312.7 205.7 311.3 210.0 313.0C214.3 314.7 211.3 314.3 216.0 316.0C220.7 317.7 218.3 316.7 224.0 318.0C229.7 319.3 230.0 319.3 233.0 320.0" fill="none" stroke="#3fb6c8" stroke-width="2.2"/>
</g>
<path d="M118.5 202.0C124.0 199.0 123.7 198.0 135.0 193.0C146.3 188.0 142.1 188.9 152.4 187.0C162.7 185.1 157.1 187.9 166.0 187.2C174.9 186.5 168.7 187.1 179.0 185.0C189.3 182.9 191.0 182.3 197.0 181.0L198.0 186.4C191.7 187.9 189.7 187.5 179.0 191.0C168.3 194.5 174.9 193.4 166.0 196.8C157.1 200.2 161.7 198.5 152.4 201.2C143.1 203.9 142.8 203.7 138.0 205.0Z" fill="url(#gMuscle)"/>
<path d="M130.0 200.0C136.7 197.7 138.0 196.2 150.0 193.0C162.0 189.8 156.0 192.3 166.0 190.5C176.0 188.7 170.0 189.8 180.0 187.5C190.0 185.2 190.7 184.8 196.0 183.5" fill="none" stroke="#fbb59b" stroke-width="1.4" opacity="0.8"/>
<path d="M93.5 380.5C100.1 385.8 101.7 388.5 113.2 396.5C124.7 404.5 117.9 400.2 128.0 404.5C138.1 408.8 131.2 404.5 143.5 409.5C155.8 414.5 152.1 414.0 164.9 419.5C177.7 425.0 176.2 423.8 181.8 426.0L181.8 426.0C177.9 421.5 177.0 419.7 170.2 412.5C163.4 405.3 168.0 409.0 161.3 404.5C154.6 400.0 158.3 402.6 150.0 399.0C141.7 395.4 145.6 398.1 136.3 393.8C127.0 389.5 126.8 388.7 122.0 386.2Z" fill="url(#gMuscle)"/>
<path d="M110.0 388.0C116.7 391.5 116.7 393.0 130.0 398.5C143.3 404.0 138.3 399.7 150.0 404.5C161.7 409.3 155.7 406.8 165.0 413.0C174.3 419.2 173.7 419.7 178.0 423.0" fill="none" stroke="#fbb59b" stroke-width="1.4" opacity="0.8"/>
<path d="M23.3 293.0C23.3 288.9 23.3 292.2 24.4 286.9C25.5 281.6 24.5 283.6 26.7 277.2C28.9 270.8 27.4 274.0 30.9 267.6C34.4 261.2 32.5 264.4 37.1 258.0C41.7 251.6 39.0 256.5 44.7 248.3C50.4 240.1 46.9 242.8 54.3 233.3C61.7 223.8 59.6 226.6 66.8 219.8C74.0 213.0 69.8 217.0 76.0 213.0C82.2 209.0 79.1 210.7 85.4 207.8C91.7 204.9 88.1 206.1 95.0 204.3C101.9 202.5 97.2 202.6 106.0 202.4C114.8 202.2 111.3 202.0 121.5 203.8C131.7 205.6 126.8 204.3 136.5 207.9C146.3 211.5 141.7 209.3 150.7 214.5C159.6 219.8 155.5 216.9 163.4 223.6C171.3 230.3 167.8 226.7 174.4 234.8C181.1 242.8 178.2 238.6 183.3 247.7C188.5 256.8 186.4 252.2 189.9 262.0C193.5 271.9 192.1 266.9 193.9 277.3C195.7 287.6 195.3 282.5 195.3 293.0C195.3 303.5 195.7 298.4 193.9 308.7C192.1 319.1 193.5 314.1 189.9 324.0C186.4 333.8 188.5 329.2 183.3 338.3C178.2 347.4 181.1 343.2 174.4 351.2C167.8 359.3 171.3 355.7 163.4 362.4C155.5 369.1 159.6 366.2 150.7 371.5C141.7 376.7 146.3 374.5 136.5 378.1C126.8 381.7 131.7 380.4 121.5 382.2C111.3 384.0 114.8 383.8 106.0 383.6C97.2 383.4 101.9 383.5 95.0 381.7C88.1 379.9 91.7 381.1 85.4 378.2C79.1 375.3 82.2 377.0 76.0 373.0C69.8 369.0 74.0 373.0 66.8 366.2C59.6 359.4 61.7 362.2 54.3 352.7C46.9 343.2 50.4 345.9 44.7 337.7C39.0 329.5 41.7 334.4 37.1 328.0C32.5 321.6 34.4 324.8 30.9 318.4C27.4 312.0 28.9 315.2 26.7 308.8C24.5 302.4 25.5 304.4 24.4 299.1C23.3 293.8 23.3 297.1 23.3 293.0Z" fill="#ffffff"/>
<path d="M44.7 248.3C47.9 243.3 46.9 242.8 54.3 233.3C61.7 223.8 59.6 226.6 66.8 219.8C74.0 213.0 69.8 217.0 76.0 213.0C82.2 209.0 79.1 210.7 85.4 207.8C91.7 204.9 88.1 206.1 95.0 204.3C101.9 202.5 97.2 202.6 106.0 202.4C114.8 202.2 111.3 202.0 121.5 203.8C131.7 205.6 126.8 204.3 136.5 207.9C146.3 211.5 141.7 209.3 150.7 214.5C159.6 219.8 155.5 216.9 163.4 223.6C171.3 230.3 167.8 226.7 174.4 234.8C181.1 242.8 178.2 238.6 183.3 247.7C188.5 256.8 186.4 252.2 189.9 262.0C193.5 271.9 192.1 266.9 193.9 277.3C195.7 287.6 195.3 282.5 195.3 293.0C195.3 303.5 195.7 298.4 193.9 308.7C192.1 319.1 193.5 314.1 189.9 324.0C186.4 333.8 188.5 329.2 183.3 338.3C178.2 347.4 181.1 343.2 174.4 351.2C167.8 359.3 171.3 355.7 163.4 362.4C155.5 369.1 159.6 366.2 150.7 371.5C141.7 376.7 146.3 374.5 136.5 378.1C126.8 381.7 131.7 380.4 121.5 382.2C111.3 384.0 114.8 383.8 106.0 383.6C97.2 383.4 101.9 383.5 95.0 381.7C88.1 379.9 91.7 381.1 85.4 378.2C79.1 375.3 82.2 377.0 76.0 373.0C69.8 369.0 74.0 373.0 66.8 366.2C59.6 359.4 61.7 362.2 54.3 352.7C46.9 343.2 47.9 342.7 44.7 337.7L53.0 331.2C54.3 333.1 54.3 333.2 57.0 337.0C59.7 340.8 58.6 339.0 61.0 342.5C63.4 346.0 61.8 344.0 64.3 347.5C66.8 351.0 65.6 349.6 68.5 353.0C71.4 356.4 69.3 353.7 73.1 357.8C76.9 361.9 75.2 360.6 80.0 365.2C84.8 369.8 82.2 368.1 87.5 371.6C92.8 375.1 89.8 373.6 96.0 375.6C102.2 377.6 93.1 378.3 106.0 377.6C118.9 376.9 120.8 376.9 134.8 373.4C148.9 369.9 139.7 372.1 148.2 367.1C156.6 362.2 152.7 364.9 160.2 358.6C167.7 352.2 164.3 355.6 170.6 348.0C176.9 340.4 174.1 344.4 179.0 335.8C183.9 327.2 181.9 331.6 185.2 322.3C188.6 313.0 187.3 317.6 189.0 307.9C190.7 298.1 190.3 302.9 190.3 293.0C190.3 283.1 190.7 287.9 189.0 278.1C187.3 268.4 188.6 273.0 185.2 263.7C181.9 254.4 183.9 258.8 179.0 250.2C174.1 241.6 176.9 245.6 170.6 238.0C164.3 230.4 167.7 233.8 160.2 227.4C152.7 221.1 156.6 223.8 148.2 218.9C139.7 213.9 148.9 216.1 134.8 212.6C120.8 209.1 118.9 209.1 106.0 208.4C93.1 207.7 102.2 208.4 96.0 210.4C89.8 212.4 92.8 210.9 87.5 214.4C82.2 217.9 84.8 216.2 80.0 220.8C75.2 225.4 76.9 224.1 73.1 228.2C69.3 232.3 71.4 229.6 68.5 233.0C65.6 236.4 66.8 235.0 64.3 238.5C61.8 242.0 63.4 240.0 61.0 243.5C58.6 247.0 59.7 245.2 57.0 249.0C54.3 252.8 54.3 252.9 53.0 254.8Z" fill="url(#gScleraEye)"/>
<path d="M53.0 254.8C54.3 252.9 54.3 252.8 57.0 249.0C59.7 245.2 58.6 247.0 61.0 243.5C63.4 240.0 61.8 242.0 64.3 238.5C66.8 235.0 65.6 236.4 68.5 233.0C71.4 229.6 69.3 232.3 73.1 228.2C76.9 224.1 75.2 225.4 80.0 220.8C84.8 216.2 82.2 217.9 87.5 214.4C92.8 210.9 89.8 212.4 96.0 210.4C102.2 208.4 93.1 207.7 106.0 208.4C118.9 209.1 120.8 209.1 134.8 212.6C148.9 216.1 139.7 213.9 148.2 218.9C156.6 223.8 152.7 221.1 160.2 227.4C167.7 233.8 164.3 230.4 170.6 238.0C176.9 245.6 174.1 241.6 179.0 250.2C183.9 258.8 181.9 254.4 185.2 263.7C188.6 273.0 187.3 268.4 189.0 278.1C190.7 287.9 190.3 283.1 190.3 293.0C190.3 302.9 190.7 298.1 189.0 307.9C187.3 317.6 188.6 313.0 185.2 322.3C181.9 331.6 183.9 327.2 179.0 335.8C174.1 344.4 176.9 340.4 170.6 348.0C164.3 355.6 167.7 352.2 160.2 358.6C152.7 364.9 156.6 362.2 148.2 367.1C139.7 372.1 148.9 369.9 134.8 373.4C120.8 376.9 118.9 376.9 106.0 377.6C93.1 378.3 102.2 377.6 96.0 375.6C89.8 373.6 92.8 375.1 87.5 371.6C82.2 368.1 84.8 369.8 80.0 365.2C75.2 360.6 76.9 361.9 73.1 357.8C69.3 353.7 71.4 356.4 68.5 353.0C65.6 349.6 66.8 351.0 64.3 347.5C61.8 344.0 63.4 346.0 61.0 342.5C58.6 339.0 59.7 340.8 57.0 337.0C54.3 333.2 54.3 333.1 53.0 331.2Z" fill="url(#gChor)"/>
<path d="M63.8 239.5C65.7 237.7 65.8 237.3 69.6 234.2C73.4 231.1 70.7 233.6 75.2 230.3C79.7 227.0 78.1 227.9 83.0 224.2C87.9 220.5 84.6 222.1 90.0 219.3C95.4 216.5 91.8 216.9 99.3 215.7C106.9 214.5 103.8 214.9 112.7 215.7C121.5 216.5 117.3 215.7 125.8 218.0C134.4 220.4 130.3 218.9 138.4 222.7C146.4 226.5 142.7 224.3 149.9 229.4C157.2 234.6 153.9 231.8 160.2 238.1C166.4 244.5 163.7 241.1 168.7 248.5C173.8 255.8 171.7 252.1 175.4 260.2C179.2 268.3 177.7 264.2 180.0 272.9C182.3 281.6 181.5 277.3 182.3 286.2C183.1 295.2 183.1 290.8 182.3 299.8C181.5 308.7 182.3 304.4 180.0 313.1C177.7 321.8 179.2 317.7 175.4 325.8C171.7 333.9 173.8 330.2 168.7 337.5C163.7 344.9 166.4 341.5 160.2 347.9C153.9 354.2 157.2 351.4 149.9 356.6C142.7 361.7 146.4 359.5 138.4 363.3C130.3 367.1 134.4 365.6 125.8 368.0C117.3 370.3 121.5 369.5 112.7 370.3C103.8 371.1 106.9 371.5 99.3 370.3C91.8 369.1 95.4 369.5 90.0 366.7C84.6 363.9 87.9 365.5 83.0 361.8C78.1 358.1 79.7 359.0 75.2 355.7C70.7 352.4 73.4 354.9 69.6 351.8C65.8 348.7 65.7 348.3 63.8 346.5Z" fill="#fcdc9a"/>
<path d="M64.0 240.8C66.3 239.1 66.5 238.6 70.8 235.8C75.1 233.0 72.1 235.5 76.8 232.5C81.5 229.5 79.9 230.1 84.8 226.8C89.7 223.5 86.5 225.0 91.5 222.6C96.5 220.2 92.7 220.5 99.7 219.5C106.6 218.4 103.9 218.7 112.3 219.5C120.7 220.2 116.7 219.5 124.8 221.7C133.0 223.9 129.1 222.5 136.8 226.1C144.4 229.7 140.9 227.6 147.8 232.5C154.7 237.4 151.5 234.8 157.5 240.8C163.4 246.9 160.8 243.7 165.6 250.7C170.5 257.7 168.4 254.1 172.0 261.8C175.5 269.6 174.1 265.6 176.3 273.9C178.5 282.2 177.8 278.1 178.5 286.6C179.3 295.1 179.3 290.9 178.5 299.4C177.8 307.9 178.5 303.8 176.3 312.1C174.1 320.4 175.5 316.4 172.0 324.2C168.4 331.9 170.5 328.3 165.6 335.3C160.8 342.3 163.4 339.1 157.5 345.2C151.5 351.2 154.7 348.6 147.8 353.5C140.9 358.4 144.4 356.3 136.8 359.9C129.1 363.5 133.0 362.1 124.8 364.3C116.7 366.5 120.7 365.8 112.3 366.5C103.9 367.3 106.6 367.6 99.7 366.5C92.7 365.5 96.5 365.8 91.5 363.4C86.5 361.0 89.7 362.5 84.8 359.2C79.9 355.9 81.5 356.5 76.8 353.5C72.1 350.5 75.1 353.0 70.8 350.2C66.5 347.4 66.3 346.9 64.0 345.2Z" fill="url(#gVit)"/>
<path d="M64.0 240.8C66.3 239.1 66.5 238.6 70.8 235.8C75.1 233.0 72.1 235.5 76.8 232.5C81.5 229.5 79.9 230.1 84.8 226.8C89.7 223.5 86.5 225.0 91.5 222.6C96.5 220.2 92.7 220.5 99.7 219.5C106.6 218.4 103.9 218.7 112.3 219.5C120.7 220.2 116.7 219.5 124.8 221.7C133.0 223.9 129.1 222.5 136.8 226.1C144.4 229.7 140.9 227.6 147.8 232.5C154.7 237.4 151.5 234.8 157.5 240.8C163.4 246.9 160.8 243.7 165.6 250.7C170.5 257.7 168.4 254.1 172.0 261.8C175.5 269.6 174.1 265.6 176.3 273.9C178.5 282.2 177.8 278.1 178.5 286.6C179.3 295.1 179.3 290.9 178.5 299.4C177.8 307.9 178.5 303.8 176.3 312.1C174.1 320.4 175.5 316.4 172.0 324.2C168.4 331.9 170.5 328.3 165.6 335.3C160.8 342.3 163.4 339.1 157.5 345.2C151.5 351.2 154.7 348.6 147.8 353.5C140.9 358.4 144.4 356.3 136.8 359.9C129.1 363.5 133.0 362.1 124.8 364.3C116.7 366.5 120.7 365.8 112.3 366.5C103.9 367.3 106.6 367.6 99.7 366.5C92.7 365.5 96.5 365.8 91.5 363.4C86.5 361.0 89.7 362.5 84.8 359.2C79.9 355.9 81.5 356.5 76.8 353.5C72.1 350.5 75.1 353.0 70.8 350.2C66.5 347.4 66.3 346.9 64.0 345.2Z" fill="url(#gVitShade)"/>
<path d="M44.7 248.3C47.9 243.3 46.9 242.8 54.3 233.3C61.7 223.8 59.6 226.6 66.8 219.8C74.0 213.0 69.8 217.0 76.0 213.0C82.2 209.0 79.1 210.7 85.4 207.8C91.7 204.9 88.1 206.1 95.0 204.3C101.9 202.5 97.2 202.6 106.0 202.4C114.8 202.2 111.3 202.0 121.5 203.8C131.7 205.6 126.8 204.3 136.5 207.9C146.3 211.5 141.7 209.3 150.7 214.5C159.6 219.8 155.5 216.9 163.4 223.6C171.3 230.3 167.8 226.7 174.4 234.8C181.1 242.8 178.2 238.6 183.3 247.7C188.5 256.8 186.4 252.2 189.9 262.0C193.5 271.9 192.1 266.9 193.9 277.3C195.7 287.6 195.3 282.5 195.3 293.0C195.3 303.5 195.7 298.4 193.9 308.7C192.1 319.1 193.5 314.1 189.9 324.0C186.4 333.8 188.5 329.2 183.3 338.3C178.2 347.4 181.1 343.2 174.4 351.2C167.8 359.3 171.3 355.7 163.4 362.4C155.5 369.1 159.6 366.2 150.7 371.5C141.7 376.7 146.3 374.5 136.5 378.1C126.8 381.7 131.7 380.4 121.5 382.2C111.3 384.0 114.8 383.8 106.0 383.6C97.2 383.4 101.9 383.5 95.0 381.7C88.1 379.9 91.7 381.1 85.4 378.2C79.1 375.3 82.2 377.0 76.0 373.0C69.8 369.0 74.0 373.0 66.8 366.2C59.6 359.4 61.7 362.2 54.3 352.7C46.9 343.2 47.9 342.7 44.7 337.7" fill="none" stroke="#88aac8" stroke-width="0.9"/>
<path d="M53.0 254.8C54.3 252.9 54.3 252.8 57.0 249.0C59.7 245.2 58.6 247.0 61.0 243.5C63.4 240.0 61.8 242.0 64.3 238.5C66.8 235.0 65.6 236.4 68.5 233.0C71.4 229.6 69.3 232.3 73.1 228.2C76.9 224.1 75.2 225.4 80.0 220.8C84.8 216.2 82.2 217.9 87.5 214.4C92.8 210.9 89.8 212.4 96.0 210.4C102.2 208.4 93.1 207.7 106.0 208.4C118.9 209.1 120.8 209.1 134.8 212.6C148.9 216.1 139.7 213.9 148.2 218.9C156.6 223.8 152.7 221.1 160.2 227.4C167.7 233.8 164.3 230.4 170.6 238.0C176.9 245.6 174.1 241.6 179.0 250.2C183.9 258.8 181.9 254.4 185.2 263.7C188.6 273.0 187.3 268.4 189.0 278.1C190.7 287.9 190.3 283.1 190.3 293.0C190.3 302.9 190.7 298.1 189.0 307.9C187.3 317.6 188.6 313.0 185.2 322.3C181.9 331.6 183.9 327.2 179.0 335.8C174.1 344.4 176.9 340.4 170.6 348.0C164.3 355.6 167.7 352.2 160.2 358.6C152.7 364.9 156.6 362.2 148.2 367.1C139.7 372.1 148.9 369.9 134.8 373.4C120.8 376.9 118.9 376.9 106.0 377.6C93.1 378.3 102.2 377.6 96.0 375.6C89.8 373.6 92.8 375.1 87.5 371.6C82.2 368.1 84.8 369.8 80.0 365.2C75.2 360.6 76.9 361.9 73.1 357.8C69.3 353.7 71.4 356.4 68.5 353.0C65.6 349.6 66.8 351.0 64.3 347.5C61.8 344.0 63.4 346.0 61.0 342.5C58.6 339.0 59.7 340.8 57.0 337.0C54.3 333.2 54.3 333.1 53.0 331.2" fill="none" stroke="#9b2f1c" stroke-width="0.7" opacity="0.6"/>
<path d="M182.0 306.0C179.3 303.0 178.0 303.3 174.0 297.0C170.0 290.7 173.7 293.3 170.0 287.0C166.3 280.7 166.3 284.3 163.0 278.0C159.7 271.7 163.7 274.7 160.0 268.0C156.3 261.3 155.3 264.7 152.0 258.0C148.7 251.3 152.3 253.7 150.0 248.0C147.7 242.3 146.7 243.3 145.0 241.0" fill="none" stroke="#7a9ebf" stroke-width="0.8" opacity="0.8"/>
<path d="M163.0 278.0C160.3 276.0 159.3 276.0 155.0 272.0C150.7 268.0 151.7 268.0 150.0 266.0" fill="none" stroke="#7a9ebf" stroke-width="0.8" opacity="0.8"/>
<path d="M182.0 306.0C177.3 305.3 176.0 306.0 168.0 304.0C160.0 302.0 164.0 302.7 158.0 300.0C152.0 297.3 155.3 297.0 150.0 296.0C144.7 295.0 144.7 296.7 142.0 297.0" fill="none" stroke="#7a9ebf" stroke-width="0.8" opacity="0.8"/>
<path d="M182.0 306.0C178.7 307.7 178.3 308.3 172.0 311.0C165.7 313.7 168.7 311.0 163.0 314.0C157.3 317.0 160.7 318.0 155.0 320.0C149.3 322.0 151.0 316.7 146.0 320.0C141.0 323.3 142.0 326.7 140.0 330.0" fill="none" stroke="#7a9ebf" stroke-width="0.8" opacity="0.8"/>
<path d="M155.0 320.0C153.3 323.3 153.0 324.0 150.0 330.0C147.0 336.0 149.3 333.7 146.0 338.0C142.7 342.3 142.0 341.3 140.0 343.0" fill="none" stroke="#7a9ebf" stroke-width="0.8" opacity="0.8"/>
<path d="M182.0 306.0C178.7 304.0 177.3 305.3 172.0 300.0C166.7 294.7 170.7 296.7 166.0 290.0C161.3 283.3 163.3 286.0 158.0 280.0C152.7 274.0 154.0 278.0 150.0 272.0C146.0 266.0 149.0 268.7 146.0 262.0C143.0 255.3 142.7 255.3 141.0 252.0" fill="none" stroke="#d8603a" stroke-width="0.8" opacity="0.8"/>
<path d="M158.0 280.0C155.3 280.3 155.0 282.3 150.0 281.0C145.0 279.7 147.3 279.0 143.0 276.0C138.7 273.0 139.0 273.3 137.0 272.0" fill="none" stroke="#d8603a" stroke-width="0.8" opacity="0.8"/>
<path d="M146.0 262.0C147.3 259.3 149.7 259.0 150.0 254.0C150.3 249.0 148.0 249.3 147.0 247.0" fill="none" stroke="#d8603a" stroke-width="0.8" opacity="0.8"/>
<path d="M182.0 306.0C178.0 306.7 177.3 308.0 170.0 308.0C162.7 308.0 166.7 305.7 160.0 306.0C153.3 306.3 156.7 309.3 150.0 309.0C143.3 308.7 143.3 306.3 140.0 305.0" fill="none" stroke="#d8603a" stroke-width="0.8" opacity="0.8"/>
<path d="M182.0 306.0C179.0 308.3 178.3 307.7 173.0 313.0C167.7 318.3 171.0 316.3 166.0 322.0C161.0 327.7 162.0 324.0 158.0 330.0C154.0 336.0 157.7 334.7 154.0 340.0C150.3 345.3 149.3 344.0 147.0 346.0" fill="none" stroke="#d8603a" stroke-width="0.8" opacity="0.8"/>
<path d="M166.0 322.0C163.3 322.0 163.3 320.7 158.0 322.0C152.7 323.3 155.3 325.3 150.0 326.0C144.7 326.7 144.7 324.7 142.0 324.0" fill="none" stroke="#d8603a" stroke-width="0.8" opacity="0.8"/>
<path d="M158.0 330.0C158.7 332.7 160.3 332.7 160.0 338.0C159.7 343.3 158.0 343.3 157.0 346.0" fill="none" stroke="#d8603a" stroke-width="0.8" opacity="0.8"/>
<path d="M176 300 L196 297.5 L196 314 L176 313 Z" fill="#f9cf9d"/>
<path d="M176 303 L197 301.5 L197 310.5 L176 310 Z" fill="#f4a565"/>
<path d="M178.0 305.0C180.0 305.3 180.0 306.0 184.0 306.0C188.0 306.0 186.0 306.0 190.0 305.0C194.0 304.0 194.0 303.7 196.0 303.0" fill="none" stroke="#d8452c" stroke-width="2.2"/>
<path d="M178.0 307.5C180.3 308.0 180.7 308.7 185.0 309.0C189.3 309.3 187.0 308.8 191.0 308.5C195.0 308.2 195.0 308.2 197.0 308.0" fill="none" stroke="#3fb6c8" stroke-width="2.2"/>
<path d="M64.3 238.0L75.6 229.8Q82.0 229.9 85.0 235.5Q90.8 239.5 91.0 246.5Q96.2 251.4 95.5 258.5Q100.0 263.8 98.3 270.5Q102.2 275.8 99.8 282.0Q103.2 287.4 100.2 293.0Q103.2 298.6 99.8 304.0Q102.2 310.2 98.3 315.5Q100.0 322.2 95.5 327.5Q96.2 334.6 91.0 339.5Q90.8 346.5 85.0 350.5Q82.0 356.1 75.6 356.2L64.3 348.0C65.2 344.0 64.9 346.0 67.0 336.0C69.1 326.0 68.6 332.3 70.5 318.0C72.4 303.7 72.6 309.7 72.6 293.0C72.6 276.3 72.4 282.3 70.5 268.0C68.6 253.7 69.1 260.0 67.0 250.0C64.9 240.0 65.2 242.0 64.3 238.0Z" fill="url(#gCilEye)"/>
<g filter="url(#fBlur1)">
<path d="M80.8 232.7 L66.4 241.1" stroke="#eeaa78" stroke-width="4.4" stroke-linecap="round" opacity="0.7"/>
<path d="M88.5 241.0 L68.7 248.3" stroke="#eeaa78" stroke-width="4.4" stroke-linecap="round" opacity="0.7"/>
<path d="M93.8 252.5 L71.4 258.2" stroke="#eeaa78" stroke-width="4.4" stroke-linecap="round" opacity="0.7"/>
<path d="M97.4 264.5 L73.5 268.5" stroke="#eeaa78" stroke-width="4.4" stroke-linecap="round" opacity="0.7"/>
<path d="M99.5 276.2 L74.8 278.6" stroke="#eeaa78" stroke-width="4.4" stroke-linecap="round" opacity="0.7"/>
<path d="M100.5 287.5 L75.4 288.3" stroke="#eeaa78" stroke-width="4.4" stroke-linecap="round" opacity="0.7"/>
<path d="M100.5 298.5 L75.4 297.7" stroke="#eeaa78" stroke-width="4.4" stroke-linecap="round" opacity="0.7"/>
<path d="M99.5 309.8 L74.8 307.4" stroke="#eeaa78" stroke-width="4.4" stroke-linecap="round" opacity="0.7"/>
<path d="M97.4 321.5 L73.5 317.5" stroke="#eeaa78" stroke-width="4.4" stroke-linecap="round" opacity="0.7"/>
<path d="M93.8 333.5 L71.4 327.8" stroke="#eeaa78" stroke-width="4.4" stroke-linecap="round" opacity="0.7"/>
<path d="M88.5 345.0 L68.7 337.7" stroke="#eeaa78" stroke-width="4.4" stroke-linecap="round" opacity="0.7"/>
<path d="M80.8 353.4 L66.4 344.9" stroke="#eeaa78" stroke-width="4.4" stroke-linecap="round" opacity="0.7"/>
<path d="M85.0 235.5 L66.2 243.6" stroke="#b8622f" stroke-width="1.6" opacity="0.45"/>
<path d="M91.0 246.5 L69.1 253.0" stroke="#b8622f" stroke-width="1.6" opacity="0.45"/>
<path d="M95.5 258.5 L71.5 263.3" stroke="#b8622f" stroke-width="1.6" opacity="0.45"/>
<path d="M98.3 270.5 L73.2 273.6" stroke="#b8622f" stroke-width="1.6" opacity="0.45"/>
<path d="M99.8 282.0 L74.2 283.5" stroke="#b8622f" stroke-width="1.6" opacity="0.45"/>
<path d="M100.2 293.0 L74.5 293.0" stroke="#b8622f" stroke-width="1.6" opacity="0.45"/>
<path d="M99.8 304.0 L74.2 302.5" stroke="#b8622f" stroke-width="1.6" opacity="0.45"/>
<path d="M98.3 315.5 L73.2 312.4" stroke="#b8622f" stroke-width="1.6" opacity="0.45"/>
<path d="M95.5 327.5 L71.5 322.7" stroke="#b8622f" stroke-width="1.6" opacity="0.45"/>
<path d="M91.0 339.5 L69.1 333.0" stroke="#b8622f" stroke-width="1.6" opacity="0.45"/>
<path d="M85.0 350.5 L66.2 342.4" stroke="#b8622f" stroke-width="1.6" opacity="0.45"/>
</g>
<path d="M64.3 238.5C64.5 242.3 63.9 241.8 64.8 250.0C65.7 258.2 65.1 253.0 67.0 263.0C68.9 273.0 69.0 270.0 70.6 280.0C72.2 290.0 71.8 284.3 71.8 293.0C71.8 301.7 72.2 296.0 70.6 306.0C69.0 316.0 68.9 313.0 67.0 323.0C65.1 333.0 65.7 327.8 64.8 336.0C63.9 344.2 64.5 343.7 64.3 347.5L65.5 347.5C67.3 343.7 68.1 344.5 71.0 336.0C73.9 327.5 73.0 332.0 74.2 322.0C75.4 312.0 74.6 315.7 74.6 306.0C74.6 296.3 74.2 301.7 74.2 293.0C74.2 284.3 74.6 289.7 74.6 280.0C74.6 270.3 75.4 274.0 74.2 264.0C73.0 254.0 73.9 258.5 71.0 250.0C68.1 241.5 67.3 242.3 65.5 238.5Z" fill="url(#gDarkFace)"/>
<path d="M64.0 239.5L50.6 258.8L56.0 259.5L66.7 264.5L64.8 250.0Z" fill="#4a3226"/>
<path d="M59.6 246.0 L55.5 259.6" stroke="#f6cdb0" stroke-width="1.7"/>
<path d="M62.3 243.5 L60.3 261.2" stroke="#f6cdb0" stroke-width="1.7"/>
<path d="M64.4 242.0 L64.6 263.2" stroke="#f6cdb0" stroke-width="1.7"/>
<path d="M64.5 237.5C62.7 237.7 62.8 238.5 60.5 241.5C58.2 244.5 57.7 244.3 57.5 246.5C57.3 248.7 57.7 248.2 60.0 248.0C62.3 247.8 62.5 248.3 64.5 246.0C66.5 243.7 66.0 243.8 66.0 241.0C66.0 238.2 66.3 237.3 64.5 237.5Z" fill="#f5ad96"/>
<path d="M64.0 346.5L50.6 327.2L56.0 326.5L66.7 321.5L64.8 336.0Z" fill="#4a3226"/>
<path d="M59.6 340.0 L55.5 326.4" stroke="#f6cdb0" stroke-width="1.7"/>
<path d="M62.3 342.5 L60.3 324.8" stroke="#f6cdb0" stroke-width="1.7"/>
<path d="M64.4 344.0 L64.6 322.8" stroke="#f6cdb0" stroke-width="1.7"/>
<path d="M64.5 348.5C62.7 348.3 62.8 347.5 60.5 344.5C58.2 341.5 57.7 341.7 57.5 339.5C57.3 337.3 57.7 337.8 60.0 338.0C62.3 338.2 62.5 337.7 64.5 340.0C66.5 342.3 66.0 342.2 66.0 345.0C66.0 347.8 66.3 348.7 64.5 348.5Z" fill="#f5ad96"/>
<path d="M45.9 248.2C44.2 249.6 44.0 249.4 40.9 252.4C37.7 255.3 39.2 253.8 36.4 257.1C33.6 260.4 34.9 258.7 32.5 262.3C30.1 265.9 31.2 264.1 29.3 267.9C27.3 271.8 28.2 269.8 26.7 273.9C25.2 278.0 25.8 275.9 24.8 280.1C23.8 284.3 24.2 282.2 23.7 286.5C23.2 290.8 23.3 288.7 23.3 293.0C23.3 297.3 23.2 295.2 23.7 299.5C24.2 303.8 23.8 301.7 24.8 305.9C25.8 310.1 25.2 308.0 26.7 312.1C28.2 316.2 27.3 314.2 29.3 318.1C31.2 321.9 30.1 320.1 32.5 323.7C34.9 327.3 33.6 325.6 36.4 328.9C39.2 332.2 37.7 330.7 40.9 333.6C44.0 336.6 44.2 336.4 45.9 337.8L53.0 331.2C50.3 330.7 48.9 331.5 44.9 329.6C40.9 327.6 43.4 328.3 40.9 325.3C38.3 322.4 39.5 323.9 37.3 320.6C35.2 317.4 36.2 319.1 34.4 315.6C32.6 312.1 33.4 313.9 32.1 310.2C30.7 306.6 31.3 308.4 30.4 304.6C29.5 300.8 29.8 302.7 29.3 298.8C28.9 295.0 29.0 296.9 29.0 293.0C29.0 289.1 28.9 291.0 29.3 287.2C29.8 283.3 29.5 285.2 30.4 281.4C31.3 277.6 30.7 279.4 32.1 275.8C33.4 272.1 32.6 273.9 34.4 270.4C36.2 266.9 35.2 268.6 37.3 265.4C39.5 262.1 38.3 263.6 40.9 260.7C43.4 257.7 40.9 258.4 44.9 256.4C48.9 254.5 50.3 255.3 53.0 254.8Z" fill="#ffffff"/>
<path d="M30.8 265.1C30.0 266.6 29.9 266.5 28.5 269.5C27.2 272.4 27.8 270.9 26.7 273.9C25.6 277.0 26.0 275.5 25.2 278.6C24.4 281.7 24.7 280.1 24.1 283.3C23.6 286.5 23.8 284.9 23.5 288.1C23.2 291.4 23.3 289.8 23.3 293.0C23.3 296.2 23.2 294.6 23.5 297.9C23.8 301.1 23.6 299.5 24.1 302.7C24.7 305.9 24.4 304.3 25.2 307.4C26.0 310.5 25.6 309.0 26.7 312.1C27.8 315.1 27.2 313.6 28.5 316.5C29.9 319.5 30.0 319.4 30.8 320.9L35.7 318.0C35.0 316.7 34.9 316.8 33.7 314.1C32.5 311.5 33.0 312.8 32.0 310.1C31.0 307.4 31.5 308.7 30.7 305.9C30.0 303.1 30.3 304.5 29.8 301.7C29.3 298.8 29.4 300.3 29.2 297.4C28.9 294.5 29.0 295.9 29.0 293.0C29.0 290.1 28.9 291.5 29.2 288.6C29.4 285.7 29.3 287.2 29.8 284.3C30.3 281.5 30.0 282.9 30.7 280.1C31.5 277.3 31.0 278.6 32.0 275.9C33.0 273.2 32.5 274.5 33.7 271.9C34.9 269.2 35.0 269.3 35.7 268.0Z" fill="#c9ebf9"/>
<path d="M36.3 257.2C35.8 257.8 35.8 257.8 34.8 259.1C33.8 260.4 34.3 259.7 33.4 261.1C32.4 262.4 32.9 261.7 32.0 263.1C31.2 264.4 31.2 264.5 30.8 265.1L35.7 268.0C36.1 267.4 36.0 267.4 36.8 266.1C37.6 264.9 37.2 265.5 38.0 264.3C38.9 263.1 38.4 263.7 39.3 262.6C40.2 261.4 40.2 261.4 40.7 260.9Z" fill="#e6f6fc"/>
<path d="M30.8 320.9C31.2 321.5 31.2 321.6 32.0 322.9C32.9 324.3 32.4 323.6 33.4 324.9C34.3 326.3 33.8 325.6 34.8 326.9C35.8 328.2 35.8 328.2 36.3 328.8L40.7 325.1C40.2 324.6 40.2 324.6 39.3 323.4C38.4 322.3 38.9 322.9 38.0 321.7C37.2 320.5 37.6 321.1 36.8 319.9C36.0 318.6 36.1 318.6 35.7 318.0Z" fill="#e6f6fc"/>
<path d="M32.3 262.7C31.4 264.2 31.2 264.1 29.6 267.3C28.0 270.4 28.7 268.8 27.4 272.1C26.0 275.4 26.6 273.8 25.6 277.2C24.6 280.6 25.0 278.9 24.3 282.4C23.6 285.9 23.9 284.1 23.6 287.7C23.2 291.2 23.3 289.4 23.3 293.0C23.3 296.6 23.2 294.8 23.6 298.3C23.9 301.9 23.6 300.1 24.3 303.6C25.0 307.1 24.6 305.4 25.6 308.8C26.6 312.2 26.0 310.6 27.4 313.9C28.7 317.2 28.0 315.6 29.6 318.7C31.2 321.9 31.4 321.8 32.3 323.3L31.5 318.3C31.5 317.6 31.9 318.1 31.4 316.2C30.8 314.3 30.7 315.0 29.7 312.6C28.8 310.1 29.2 311.3 28.4 308.8C27.6 306.2 28.0 307.5 27.4 304.9C26.8 302.3 27.0 303.6 26.6 301.0C26.2 298.3 26.4 299.7 26.2 297.0C25.9 294.3 26.0 295.7 26.0 293.0C26.0 290.3 25.9 291.7 26.2 289.0C26.4 286.3 26.2 287.7 26.6 285.0C27.0 282.4 26.8 283.7 27.4 281.1C28.0 278.5 27.6 279.8 28.4 277.2C29.2 274.7 28.8 275.9 29.7 273.4C30.7 271.0 30.8 271.7 31.4 269.8C31.9 267.9 31.5 268.4 31.5 267.7Z" fill="#4fb2ec"/>
<path d="M45.9 248.2C44.2 249.6 44.0 249.4 40.9 252.4C37.7 255.3 39.2 253.8 36.4 257.1C33.6 260.4 34.9 258.7 32.5 262.3C30.1 265.9 31.2 264.1 29.3 267.9C27.3 271.8 28.2 269.8 26.7 273.9C25.2 278.0 25.8 275.9 24.8 280.1C23.8 284.3 24.2 282.2 23.7 286.5C23.2 290.8 23.3 288.7 23.3 293.0C23.3 297.3 23.2 295.2 23.7 299.5C24.2 303.8 23.8 301.7 24.8 305.9C25.8 310.1 25.2 308.0 26.7 312.1C28.2 316.2 27.3 314.2 29.3 318.1C31.2 321.9 30.1 320.1 32.5 323.7C34.9 327.3 33.6 325.6 36.4 328.9C39.2 332.2 37.7 330.7 40.9 333.6C44.0 336.6 44.2 336.4 45.9 337.8" fill="none" stroke="#3f7fbd" stroke-width="0.8"/>
<path d="M41.7 259.4C40.4 261.0 40.2 260.9 37.9 264.2C35.5 267.5 36.6 265.8 34.7 269.4C32.8 273.0 33.6 271.2 32.1 275.0C30.7 278.8 31.3 276.9 30.3 280.9C29.3 284.8 29.7 282.8 29.2 286.9C28.7 290.9 28.8 288.9 28.8 293.0C28.8 297.1 28.7 295.1 29.2 299.1C29.7 303.2 29.3 301.2 30.3 305.1C31.3 309.1 30.7 307.2 32.1 311.0C33.6 314.8 32.8 313.0 34.7 316.6C36.6 320.2 35.5 318.5 37.9 321.8C40.2 325.1 40.4 325.0 41.7 326.6L46.9 321.9C45.8 320.5 45.6 320.7 43.6 317.8C41.6 314.9 42.5 316.4 40.9 313.3C39.2 310.2 39.9 311.8 38.7 308.5C37.4 305.2 37.9 306.9 37.1 303.5C36.2 300.0 36.5 301.7 36.1 298.3C35.7 294.8 35.8 296.5 35.8 293.0C35.8 289.5 35.7 291.2 36.1 287.7C36.5 284.3 36.2 286.0 37.1 282.5C37.9 279.1 37.4 280.8 38.7 277.5C39.9 274.2 39.2 275.8 40.9 272.7C42.5 269.6 41.6 271.1 43.6 268.2C45.6 265.3 45.8 265.5 46.9 264.1Z" fill="#2ea4e8"/>
<path d="M42.0 326.3 L46.5 322.3" stroke="#86d0f5" stroke-width="0.6"/>
<path d="M40.8 324.9 L45.4 321.1" stroke="#86d0f5" stroke-width="0.6"/>
<path d="M39.7 323.5 L44.4 319.8" stroke="#86d0f5" stroke-width="0.6"/>
<path d="M38.6 322.1 L43.4 318.6" stroke="#86d0f5" stroke-width="0.6"/>
<path d="M37.5 320.6 L42.5 317.2" stroke="#86d0f5" stroke-width="0.6"/>
<path d="M36.5 319.0 L41.7 315.9" stroke="#86d0f5" stroke-width="0.6"/>
<path d="M35.6 317.4 L40.8 314.5" stroke="#86d0f5" stroke-width="0.6"/>
<path d="M34.7 315.8 L40.1 313.1" stroke="#86d0f5" stroke-width="0.6"/>
<path d="M33.9 314.2 L39.4 311.6" stroke="#86d0f5" stroke-width="0.6"/>
<path d="M33.2 312.5 L38.7 310.2" stroke="#86d0f5" stroke-width="0.6"/>
<path d="M32.5 310.8 L38.1 308.7" stroke="#86d0f5" stroke-width="0.6"/>
<path d="M31.9 309.1 L37.6 307.2" stroke="#86d0f5" stroke-width="0.6"/>
<path d="M31.3 307.4 L37.1 305.7" stroke="#86d0f5" stroke-width="0.6"/>
<path d="M30.8 305.6 L36.6 304.1" stroke="#86d0f5" stroke-width="0.6"/>
<path d="M30.4 303.9 L36.3 302.6" stroke="#86d0f5" stroke-width="0.6"/>
<path d="M30.0 302.1 L35.9 301.0" stroke="#86d0f5" stroke-width="0.6"/>
<path d="M29.7 300.3 L35.7 299.4" stroke="#86d0f5" stroke-width="0.6"/>
<path d="M29.5 298.5 L35.5 297.8" stroke="#86d0f5" stroke-width="0.6"/>
<path d="M29.3 296.6 L35.3 296.2" stroke="#86d0f5" stroke-width="0.6"/>
<path d="M29.2 294.8 L35.2 294.6" stroke="#86d0f5" stroke-width="0.6"/>
<path d="M29.2 293.0 L35.2 293.0" stroke="#86d0f5" stroke-width="0.6"/>
<path d="M29.2 291.2 L35.2 291.4" stroke="#86d0f5" stroke-width="0.6"/>
<path d="M29.3 289.4 L35.3 289.8" stroke="#86d0f5" stroke-width="0.6"/>
<path d="M29.5 287.5 L35.5 288.2" stroke="#86d0f5" stroke-width="0.6"/>
<path d="M29.7 285.7 L35.7 286.6" stroke="#86d0f5" stroke-width="0.6"/>
<path d="M30.0 283.9 L35.9 285.0" stroke="#86d0f5" stroke-width="0.6"/>
<path d="M30.4 282.1 L36.3 283.4" stroke="#86d0f5" stroke-width="0.6"/>
<path d="M30.8 280.4 L36.6 281.9" stroke="#86d0f5" stroke-width="0.6"/>
<path d="M31.3 278.6 L37.1 280.3" stroke="#86d0f5" stroke-width="0.6"/>
<path d="M31.9 276.9 L37.6 278.8" stroke="#86d0f5" stroke-width="0.6"/>
<path d="M32.5 275.2 L38.1 277.3" stroke="#86d0f5" stroke-width="0.6"/>
<path d="M33.2 273.5 L38.7 275.8" stroke="#86d0f5" stroke-width="0.6"/>
<path d="M33.9 271.8 L39.4 274.4" stroke="#86d0f5" stroke-width="0.6"/>
<path d="M34.7 270.2 L40.1 272.9" stroke="#86d0f5" stroke-width="0.6"/>
<path d="M35.6 268.6 L40.8 271.5" stroke="#86d0f5" stroke-width="0.6"/>
<path d="M36.5 267.0 L41.7 270.1" stroke="#86d0f5" stroke-width="0.6"/>
<path d="M37.5 265.4 L42.5 268.8" stroke="#86d0f5" stroke-width="0.6"/>
<path d="M38.6 263.9 L43.4 267.4" stroke="#86d0f5" stroke-width="0.6"/>
<path d="M39.7 262.5 L44.4 266.2" stroke="#86d0f5" stroke-width="0.6"/>
<path d="M40.8 261.1 L45.4 264.9" stroke="#86d0f5" stroke-width="0.6"/>
<path d="M42.0 259.7 L46.5 263.7" stroke="#86d0f5" stroke-width="0.6"/>
<path d="M37.3 281.0C37.0 282.3 36.8 282.3 36.3 285.0C35.9 287.6 36.0 286.3 35.8 289.0C35.5 291.6 35.6 290.3 35.6 293.0C35.6 295.7 35.5 294.4 35.8 297.0C36.0 299.7 35.9 298.4 36.3 301.0C36.8 303.7 37.0 303.7 37.3 305.0L41.5 305.0C41.7 301.0 42.0 301.0 42.0 293.0C42.0 285.0 41.7 285.0 41.5 281.0Z" fill="#0a0a0a"/>
<ellipse cx="56" cy="292.5" rx="15.7" ry="33" fill="url(#gLensEye)"/>
<path d="M66.0 238.5C63.3 241.5 63.1 240.7 58.0 247.5C52.9 254.3 54.3 253.1 50.6 258.8C46.9 264.5 49.4 260.4 47.0 264.5C44.6 268.6 45.5 266.2 43.4 271.0C41.3 275.8 42.1 274.0 40.8 279.0C39.5 284.0 40.0 283.7 39.6 286.0" fill="none" stroke="#f6b39d" stroke-width="2" stroke-linecap="round"/>
<path d="M66.0 347.5C63.3 344.5 63.1 345.3 58.0 338.5C52.9 331.7 54.3 332.9 50.6 327.2C46.9 321.5 49.4 325.6 47.0 321.5C44.6 317.4 45.5 319.8 43.4 315.0C41.3 310.2 42.1 312.0 40.8 307.0C39.5 302.0 40.0 302.3 39.6 300.0" fill="none" stroke="#f6b39d" stroke-width="2" stroke-linecap="round"/></g>
<g id="eye2" transform="translate(230 0)"><g mask="url(#mNerve)"><g filter="url(#fBlur05)" opacity="0.92">
<path d="M186.0 280.0C188.3 281.5 189.3 281.7 193.0 284.5C196.7 287.3 193.7 285.7 197.0 288.5C200.3 291.3 197.0 289.7 203.0 293.0C209.0 296.3 205.8 294.5 215.0 298.5C224.2 302.5 220.7 300.8 230.7 305.0C240.7 309.2 240.2 309.0 245.0 311.0L240.0 334.5C235.0 333.2 234.3 333.0 225.0 330.7C215.7 328.4 220.3 329.6 212.0 327.5C203.7 325.4 206.7 325.7 200.0 324.5C193.3 323.3 196.7 323.3 192.0 324.0C187.3 324.7 190.0 324.5 186.0 326.5C182.0 328.5 182.0 328.8 180.0 330.0Z" fill="#9fb9da"/>
<path d="M186.0 280.0C188.3 281.5 189.3 281.7 193.0 284.5C196.7 287.3 193.7 285.7 197.0 288.5C200.3 291.3 197.0 289.7 203.0 293.0C209.0 296.3 205.8 294.5 215.0 298.5C224.2 302.5 220.7 300.8 230.7 305.0C240.7 309.2 240.2 309.0 245.0 311.0" fill="none" stroke="#7fa6cc" stroke-width="0.8"/>
<path d="M180.0 330.0C182.0 328.8 182.0 328.5 186.0 326.5C190.0 324.5 187.3 324.7 192.0 324.0C196.7 323.3 193.3 323.3 200.0 324.5C206.7 325.7 203.7 325.4 212.0 327.5C220.3 329.6 215.7 328.4 225.0 330.7C234.3 333.0 235.0 333.2 240.0 334.5" fill="none" stroke="#7fa6cc" stroke-width="0.8"/>
<path d="M180.0 297.0C184.3 297.2 183.0 295.8 193.0 297.5C203.0 299.2 197.0 297.2 210.0 302.0C223.0 306.8 220.3 307.0 232.0 312.0C243.7 317.0 240.7 315.3 245.0 317.0L245.0 329.0C239.3 327.7 240.3 328.3 228.0 325.0C215.7 321.7 220.7 322.7 208.0 319.0C195.3 315.3 199.3 315.7 190.0 314.0C180.7 312.3 183.3 314.0 180.0 314.0Z" fill="#f9cf9d"/>
<path d="M180.0 301.0C184.3 301.2 183.0 299.8 193.0 301.5C203.0 303.2 197.0 301.5 210.0 306.0C223.0 310.5 220.3 310.3 232.0 315.0C243.7 319.7 240.7 318.3 245.0 320.0L245.0 325.0C239.3 323.7 240.3 324.3 228.0 321.0C215.7 317.7 220.7 318.5 208.0 315.0C195.3 311.5 199.3 312.2 190.0 310.5C180.7 308.8 183.3 310.2 180.0 310.0Z" fill="#f4a060"/>
<path d="M196.0 308.0C198.3 308.3 198.7 307.7 203.0 309.0C207.3 310.3 204.7 310.3 209.0 312.0C213.3 313.7 211.3 312.7 216.0 314.0C220.7 315.3 217.7 314.3 223.0 316.0C228.3 317.7 229.0 318.0 232.0 319.0" fill="none" stroke="#d8452c" stroke-width="2"/>
<path d="M200.0 312.0C202.0 312.7 201.7 312.7 206.0 314.0C210.3 315.3 208.3 314.3 213.0 316.0C217.7 317.7 214.3 317.0 220.0 319.0C225.7 321.0 226.7 321.0 230.0 322.0" fill="none" stroke="#3fb6c8" stroke-width="2"/>
</g></g>
<path d="M118.5 202.0C124.0 199.0 123.7 198.0 135.0 193.0C146.3 188.0 142.1 188.9 152.4 187.0C162.7 185.1 157.1 187.9 166.0 187.2C174.9 186.5 168.7 187.1 179.0 185.0C189.3 182.9 191.0 182.3 197.0 181.0L198.0 186.4C191.7 187.9 189.7 187.5 179.0 191.0C168.3 194.5 174.9 193.4 166.0 196.8C157.1 200.2 161.7 198.5 152.4 201.2C143.1 203.9 142.8 203.7 138.0 205.0Z" fill="url(#gMuscle)"/>
<path d="M130.0 200.0C136.7 197.7 138.0 196.2 150.0 193.0C162.0 189.8 156.0 192.3 166.0 190.5C176.0 188.7 170.0 189.8 180.0 187.5C190.0 185.2 190.7 184.8 196.0 183.5" fill="none" stroke="#fbb59b" stroke-width="1.4" opacity="0.8"/>
<path d="M93.5 380.5C100.1 385.8 101.7 388.5 113.2 396.5C124.7 404.5 117.9 400.2 128.0 404.5C138.1 408.8 131.2 404.5 143.5 409.5C155.8 414.5 152.1 414.0 164.9 419.5C177.7 425.0 176.2 423.8 181.8 426.0L181.8 426.0C177.9 421.5 177.0 419.7 170.2 412.5C163.4 405.3 168.0 409.0 161.3 404.5C154.6 400.0 158.3 402.6 150.0 399.0C141.7 395.4 145.6 398.1 136.3 393.8C127.0 389.5 126.8 388.7 122.0 386.2Z" fill="url(#gMuscle)"/>
<path d="M110.0 388.0C116.7 391.5 116.7 393.0 130.0 398.5C143.3 404.0 138.3 399.7 150.0 404.5C161.7 409.3 155.7 406.8 165.0 413.0C174.3 419.2 173.7 419.7 178.0 423.0" fill="none" stroke="#fbb59b" stroke-width="1.4" opacity="0.8"/>
<path d="M23.3 293.0C23.3 288.9 23.3 292.2 24.4 286.9C25.5 281.6 24.5 283.6 26.7 277.2C28.9 270.8 27.4 274.0 30.9 267.6C34.4 261.2 32.5 264.4 37.1 258.0C41.7 251.6 39.0 256.5 44.7 248.3C50.4 240.1 46.9 242.8 54.3 233.3C61.7 223.8 59.6 226.6 66.8 219.8C74.0 213.0 69.8 217.0 76.0 213.0C82.2 209.0 79.1 210.7 85.4 207.8C91.7 204.9 88.1 206.1 95.0 204.3C101.9 202.5 97.2 202.6 106.0 202.4C114.8 202.2 111.3 202.0 121.5 203.8C131.7 205.6 126.8 204.3 136.5 207.9C146.3 211.5 141.7 209.3 150.7 214.5C159.6 219.8 155.5 216.9 163.4 223.6C171.3 230.3 167.8 226.7 174.4 234.8C181.1 242.8 178.2 238.6 183.3 247.7C188.5 256.8 186.4 252.2 189.9 262.0C193.5 271.9 192.1 266.9 193.9 277.3C195.7 287.6 195.3 282.5 195.3 293.0C195.3 303.5 195.7 298.4 193.9 308.7C192.1 319.1 193.5 314.1 189.9 324.0C186.4 333.8 188.5 329.2 183.3 338.3C178.2 347.4 181.1 343.2 174.4 351.2C167.8 359.3 171.3 355.7 163.4 362.4C155.5 369.1 159.6 366.2 150.7 371.5C141.7 376.7 146.3 374.5 136.5 378.1C126.8 381.7 131.7 380.4 121.5 382.2C111.3 384.0 114.8 383.8 106.0 383.6C97.2 383.4 101.9 383.5 95.0 381.7C88.1 379.9 91.7 381.1 85.4 378.2C79.1 375.3 82.2 377.0 76.0 373.0C69.8 369.0 74.0 373.0 66.8 366.2C59.6 359.4 61.7 362.2 54.3 352.7C46.9 343.2 50.4 345.9 44.7 337.7C39.0 329.5 41.7 334.4 37.1 328.0C32.5 321.6 34.4 324.8 30.9 318.4C27.4 312.0 28.9 315.2 26.7 308.8C24.5 302.4 25.5 304.4 24.4 299.1C23.3 293.8 23.3 297.1 23.3 293.0Z" fill="#ffffff"/>
<path d="M44.7 248.3C47.9 243.3 46.9 242.8 54.3 233.3C61.7 223.8 59.6 226.6 66.8 219.8C74.0 213.0 69.8 217.0 76.0 213.0C82.2 209.0 79.1 210.7 85.4 207.8C91.7 204.9 88.1 206.1 95.0 204.3C101.9 202.5 97.2 202.6 106.0 202.4C114.8 202.2 111.3 202.0 121.5 203.8C131.7 205.6 126.8 204.3 136.5 207.9C146.3 211.5 141.7 209.3 150.7 214.5C159.6 219.8 155.5 216.9 163.4 223.6C171.3 230.3 167.8 226.7 174.4 234.8C181.1 242.8 178.2 238.6 183.3 247.7C188.5 256.8 186.4 252.2 189.9 262.0C193.5 271.9 192.1 266.9 193.9 277.3C195.7 287.6 195.3 282.5 195.3 293.0C195.3 303.5 195.7 298.4 193.9 308.7C192.1 319.1 193.5 314.1 189.9 324.0C186.4 333.8 188.5 329.2 183.3 338.3C178.2 347.4 181.1 343.2 174.4 351.2C167.8 359.3 171.3 355.7 163.4 362.4C155.5 369.1 159.6 366.2 150.7 371.5C141.7 376.7 146.3 374.5 136.5 378.1C126.8 381.7 131.7 380.4 121.5 382.2C111.3 384.0 114.8 383.8 106.0 383.6C97.2 383.4 101.9 383.5 95.0 381.7C88.1 379.9 91.7 381.1 85.4 378.2C79.1 375.3 82.2 377.0 76.0 373.0C69.8 369.0 74.0 373.0 66.8 366.2C59.6 359.4 61.7 362.2 54.3 352.7C46.9 343.2 47.9 342.7 44.7 337.7L53.0 331.2C54.3 333.1 54.3 333.2 57.0 337.0C59.7 340.8 58.6 339.0 61.0 342.5C63.4 346.0 61.8 344.0 64.3 347.5C66.8 351.0 65.6 349.6 68.5 353.0C71.4 356.4 69.3 353.7 73.1 357.8C76.9 361.9 75.2 360.6 80.0 365.2C84.8 369.8 82.2 368.1 87.5 371.6C92.8 375.1 89.8 373.6 96.0 375.6C102.2 377.6 93.1 378.3 106.0 377.6C118.9 376.9 120.8 376.9 134.8 373.4C148.9 369.9 139.7 372.1 148.2 367.1C156.6 362.2 152.7 364.9 160.2 358.6C167.7 352.2 164.3 355.6 170.6 348.0C176.9 340.4 174.1 344.4 179.0 335.8C183.9 327.2 181.9 331.6 185.2 322.3C188.6 313.0 187.3 317.6 189.0 307.9C190.7 298.1 190.3 302.9 190.3 293.0C190.3 283.1 190.7 287.9 189.0 278.1C187.3 268.4 188.6 273.0 185.2 263.7C181.9 254.4 183.9 258.8 179.0 250.2C174.1 241.6 176.9 245.6 170.6 238.0C164.3 230.4 167.7 233.8 160.2 227.4C152.7 221.1 156.6 223.8 148.2 218.9C139.7 213.9 148.9 216.1 134.8 212.6C120.8 209.1 118.9 209.1 106.0 208.4C93.1 207.7 102.2 208.4 96.0 210.4C89.8 212.4 92.8 210.9 87.5 214.4C82.2 217.9 84.8 216.2 80.0 220.8C75.2 225.4 76.9 224.1 73.1 228.2C69.3 232.3 71.4 229.6 68.5 233.0C65.6 236.4 66.8 235.0 64.3 238.5C61.8 242.0 63.4 240.0 61.0 243.5C58.6 247.0 59.7 245.2 57.0 249.0C54.3 252.8 54.3 252.9 53.0 254.8Z" fill="url(#gScleraEye)"/>
<path d="M53.0 254.8C54.3 252.9 54.3 252.8 57.0 249.0C59.7 245.2 58.6 247.0 61.0 243.5C63.4 240.0 61.8 242.0 64.3 238.5C66.8 235.0 65.6 236.4 68.5 233.0C71.4 229.6 69.3 232.3 73.1 228.2C76.9 224.1 75.2 225.4 80.0 220.8C84.8 216.2 82.2 217.9 87.5 214.4C92.8 210.9 89.8 212.4 96.0 210.4C102.2 208.4 93.1 207.7 106.0 208.4C118.9 209.1 120.8 209.1 134.8 212.6C148.9 216.1 139.7 213.9 148.2 218.9C156.6 223.8 152.7 221.1 160.2 227.4C167.7 233.8 164.3 230.4 170.6 238.0C176.9 245.6 174.1 241.6 179.0 250.2C183.9 258.8 181.9 254.4 185.2 263.7C188.6 273.0 187.3 268.4 189.0 278.1C190.7 287.9 190.3 283.1 190.3 293.0C190.3 302.9 190.7 298.1 189.0 307.9C187.3 317.6 188.6 313.0 185.2 322.3C181.9 331.6 183.9 327.2 179.0 335.8C174.1 344.4 176.9 340.4 170.6 348.0C164.3 355.6 167.7 352.2 160.2 358.6C152.7 364.9 156.6 362.2 148.2 367.1C139.7 372.1 148.9 369.9 134.8 373.4C120.8 376.9 118.9 376.9 106.0 377.6C93.1 378.3 102.2 377.6 96.0 375.6C89.8 373.6 92.8 375.1 87.5 371.6C82.2 368.1 84.8 369.8 80.0 365.2C75.2 360.6 76.9 361.9 73.1 357.8C69.3 353.7 71.4 356.4 68.5 353.0C65.6 349.6 66.8 351.0 64.3 347.5C61.8 344.0 63.4 346.0 61.0 342.5C58.6 339.0 59.7 340.8 57.0 337.0C54.3 333.2 54.3 333.1 53.0 331.2Z" fill="url(#gChor)"/>
<path d="M63.8 239.5C65.7 237.7 65.8 237.3 69.6 234.2C73.4 231.1 70.7 233.6 75.2 230.3C79.7 227.0 78.1 227.9 83.0 224.2C87.9 220.5 84.6 222.1 90.0 219.3C95.4 216.5 91.8 216.9 99.3 215.7C106.9 214.5 103.8 214.9 112.7 215.7C121.5 216.5 117.3 215.7 125.8 218.0C134.4 220.4 130.3 218.9 138.4 222.7C146.4 226.5 142.7 224.3 149.9 229.4C157.2 234.6 153.9 231.8 160.2 238.1C166.4 244.5 163.7 241.1 168.7 248.5C173.8 255.8 171.7 252.1 175.4 260.2C179.2 268.3 177.7 264.2 180.0 272.9C182.3 281.6 181.5 277.3 182.3 286.2C183.1 295.2 183.1 290.8 182.3 299.8C181.5 308.7 182.3 304.4 180.0 313.1C177.7 321.8 179.2 317.7 175.4 325.8C171.7 333.9 173.8 330.2 168.7 337.5C163.7 344.9 166.4 341.5 160.2 347.9C153.9 354.2 157.2 351.4 149.9 356.6C142.7 361.7 146.4 359.5 138.4 363.3C130.3 367.1 134.4 365.6 125.8 368.0C117.3 370.3 121.5 369.5 112.7 370.3C103.8 371.1 106.9 371.5 99.3 370.3C91.8 369.1 95.4 369.5 90.0 366.7C84.6 363.9 87.9 365.5 83.0 361.8C78.1 358.1 79.7 359.0 75.2 355.7C70.7 352.4 73.4 354.9 69.6 351.8C65.8 348.7 65.7 348.3 63.8 346.5Z" fill="#fcdc9a"/>
<path d="M64.0 240.8C66.3 239.1 66.5 238.6 70.8 235.8C75.1 233.0 72.1 235.5 76.8 232.5C81.5 229.5 79.9 230.1 84.8 226.8C89.7 223.5 86.5 225.0 91.5 222.6C96.5 220.2 92.7 220.5 99.7 219.5C106.6 218.4 103.9 218.7 112.3 219.5C120.7 220.2 116.7 219.5 124.8 221.7C133.0 223.9 129.1 222.5 136.8 226.1C144.4 229.7 140.9 227.6 147.8 232.5C154.7 237.4 151.5 234.8 157.5 240.8C163.4 246.9 160.8 243.7 165.6 250.7C170.5 257.7 168.4 254.1 172.0 261.8C175.5 269.6 174.1 265.6 176.3 273.9C178.5 282.2 177.8 278.1 178.5 286.6C179.3 295.1 179.3 290.9 178.5 299.4C177.8 307.9 178.5 303.8 176.3 312.1C174.1 320.4 175.5 316.4 172.0 324.2C168.4 331.9 170.5 328.3 165.6 335.3C160.8 342.3 163.4 339.1 157.5 345.2C151.5 351.2 154.7 348.6 147.8 353.5C140.9 358.4 144.4 356.3 136.8 359.9C129.1 363.5 133.0 362.1 124.8 364.3C116.7 366.5 120.7 365.8 112.3 366.5C103.9 367.3 106.6 367.6 99.7 366.5C92.7 365.5 96.5 365.8 91.5 363.4C86.5 361.0 89.7 362.5 84.8 359.2C79.9 355.9 81.5 356.5 76.8 353.5C72.1 350.5 75.1 353.0 70.8 350.2C66.5 347.4 66.3 346.9 64.0 345.2Z" fill="url(#gVit)"/>
<path d="M64.0 240.8C66.3 239.1 66.5 238.6 70.8 235.8C75.1 233.0 72.1 235.5 76.8 232.5C81.5 229.5 79.9 230.1 84.8 226.8C89.7 223.5 86.5 225.0 91.5 222.6C96.5 220.2 92.7 220.5 99.7 219.5C106.6 218.4 103.9 218.7 112.3 219.5C120.7 220.2 116.7 219.5 124.8 221.7C133.0 223.9 129.1 222.5 136.8 226.1C144.4 229.7 140.9 227.6 147.8 232.5C154.7 237.4 151.5 234.8 157.5 240.8C163.4 246.9 160.8 243.7 165.6 250.7C170.5 257.7 168.4 254.1 172.0 261.8C175.5 269.6 174.1 265.6 176.3 273.9C178.5 282.2 177.8 278.1 178.5 286.6C179.3 295.1 179.3 290.9 178.5 299.4C177.8 307.9 178.5 303.8 176.3 312.1C174.1 320.4 175.5 316.4 172.0 324.2C168.4 331.9 170.5 328.3 165.6 335.3C160.8 342.3 163.4 339.1 157.5 345.2C151.5 351.2 154.7 348.6 147.8 353.5C140.9 358.4 144.4 356.3 136.8 359.9C129.1 363.5 133.0 362.1 124.8 364.3C116.7 366.5 120.7 365.8 112.3 366.5C103.9 367.3 106.6 367.6 99.7 366.5C92.7 365.5 96.5 365.8 91.5 363.4C86.5 361.0 89.7 362.5 84.8 359.2C79.9 355.9 81.5 356.5 76.8 353.5C72.1 350.5 75.1 353.0 70.8 350.2C66.5 347.4 66.3 346.9 64.0 345.2Z" fill="url(#gVitShade)"/>
<path d="M44.7 248.3C47.9 243.3 46.9 242.8 54.3 233.3C61.7 223.8 59.6 226.6 66.8 219.8C74.0 213.0 69.8 217.0 76.0 213.0C82.2 209.0 79.1 210.7 85.4 207.8C91.7 204.9 88.1 206.1 95.0 204.3C101.9 202.5 97.2 202.6 106.0 202.4C114.8 202.2 111.3 202.0 121.5 203.8C131.7 205.6 126.8 204.3 136.5 207.9C146.3 211.5 141.7 209.3 150.7 214.5C159.6 219.8 155.5 216.9 163.4 223.6C171.3 230.3 167.8 226.7 174.4 234.8C181.1 242.8 178.2 238.6 183.3 247.7C188.5 256.8 186.4 252.2 189.9 262.0C193.5 271.9 192.1 266.9 193.9 277.3C195.7 287.6 195.3 282.5 195.3 293.0C195.3 303.5 195.7 298.4 193.9 308.7C192.1 319.1 193.5 314.1 189.9 324.0C186.4 333.8 188.5 329.2 183.3 338.3C178.2 347.4 181.1 343.2 174.4 351.2C167.8 359.3 171.3 355.7 163.4 362.4C155.5 369.1 159.6 366.2 150.7 371.5C141.7 376.7 146.3 374.5 136.5 378.1C126.8 381.7 131.7 380.4 121.5 382.2C111.3 384.0 114.8 383.8 106.0 383.6C97.2 383.4 101.9 383.5 95.0 381.7C88.1 379.9 91.7 381.1 85.4 378.2C79.1 375.3 82.2 377.0 76.0 373.0C69.8 369.0 74.0 373.0 66.8 366.2C59.6 359.4 61.7 362.2 54.3 352.7C46.9 343.2 47.9 342.7 44.7 337.7" fill="none" stroke="#88aac8" stroke-width="0.9"/>
<path d="M53.0 254.8C54.3 252.9 54.3 252.8 57.0 249.0C59.7 245.2 58.6 247.0 61.0 243.5C63.4 240.0 61.8 242.0 64.3 238.5C66.8 235.0 65.6 236.4 68.5 233.0C71.4 229.6 69.3 232.3 73.1 228.2C76.9 224.1 75.2 225.4 80.0 220.8C84.8 216.2 82.2 217.9 87.5 214.4C92.8 210.9 89.8 212.4 96.0 210.4C102.2 208.4 93.1 207.7 106.0 208.4C118.9 209.1 120.8 209.1 134.8 212.6C148.9 216.1 139.7 213.9 148.2 218.9C156.6 223.8 152.7 221.1 160.2 227.4C167.7 233.8 164.3 230.4 170.6 238.0C176.9 245.6 174.1 241.6 179.0 250.2C183.9 258.8 181.9 254.4 185.2 263.7C188.6 273.0 187.3 268.4 189.0 278.1C190.7 287.9 190.3 283.1 190.3 293.0C190.3 302.9 190.7 298.1 189.0 307.9C187.3 317.6 188.6 313.0 185.2 322.3C181.9 331.6 183.9 327.2 179.0 335.8C174.1 344.4 176.9 340.4 170.6 348.0C164.3 355.6 167.7 352.2 160.2 358.6C152.7 364.9 156.6 362.2 148.2 367.1C139.7 372.1 148.9 369.9 134.8 373.4C120.8 376.9 118.9 376.9 106.0 377.6C93.1 378.3 102.2 377.6 96.0 375.6C89.8 373.6 92.8 375.1 87.5 371.6C82.2 368.1 84.8 369.8 80.0 365.2C75.2 360.6 76.9 361.9 73.1 357.8C69.3 353.7 71.4 356.4 68.5 353.0C65.6 349.6 66.8 351.0 64.3 347.5C61.8 344.0 63.4 346.0 61.0 342.5C58.6 339.0 59.7 340.8 57.0 337.0C54.3 333.2 54.3 333.1 53.0 331.2" fill="none" stroke="#9b2f1c" stroke-width="0.7" opacity="0.6"/>
<path d="M178.0 306.0C176.0 303.3 175.3 304.0 172.0 298.0C168.7 292.0 171.0 294.0 168.0 288.0C165.0 282.0 165.7 286.0 163.0 280.0C160.3 274.0 162.7 276.0 160.0 270.0C157.3 264.0 157.3 267.3 155.0 262.0C152.7 256.7 155.0 258.7 153.0 254.0C151.0 249.3 150.3 250.0 149.0 248.0" fill="none" stroke="#7a9ebf" stroke-width="0.8" opacity="0.8"/>
<path d="M163.0 280.0C161.0 278.7 160.7 278.7 157.0 276.0C153.3 273.3 153.7 273.3 152.0 272.0" fill="none" stroke="#7a9ebf" stroke-width="0.8" opacity="0.8"/>
<path d="M178.0 306.0C174.3 305.7 173.3 306.7 167.0 305.0C160.7 303.3 164.0 303.0 159.0 301.0C154.0 299.0 154.3 299.7 152.0 299.0" fill="none" stroke="#7a9ebf" stroke-width="0.8" opacity="0.8"/>
<path d="M178.0 306.0C175.7 307.7 176.0 308.0 171.0 311.0C166.0 314.0 168.0 311.7 163.0 315.0C158.0 318.3 160.7 318.7 156.0 321.0C151.3 323.3 153.0 319.0 149.0 322.0C145.0 325.0 145.7 327.3 144.0 330.0" fill="none" stroke="#7a9ebf" stroke-width="0.8" opacity="0.8"/>
<path d="M178.0 306.0C175.3 304.0 174.3 304.7 170.0 300.0C165.7 295.3 168.3 297.3 165.0 292.0C161.7 286.7 163.3 288.3 160.0 284.0C156.7 279.7 157.3 283.7 155.0 279.0C152.7 274.3 153.7 273.0 153.0 270.0" fill="none" stroke="#d8603a" stroke-width="0.8" opacity="0.8"/>
<path d="M178.0 306.0C174.7 307.0 174.0 308.7 168.0 309.0C162.0 309.3 165.3 306.7 160.0 307.0C154.7 307.3 156.7 310.0 152.0 310.0C147.3 310.0 148.0 308.0 146.0 307.0" fill="none" stroke="#d8603a" stroke-width="0.8" opacity="0.8"/>
<path d="M178.0 306.0C175.7 308.3 175.3 308.3 171.0 313.0C166.7 317.7 169.0 315.3 165.0 320.0C161.0 324.7 162.0 321.7 159.0 327.0C156.0 332.3 159.0 331.3 156.0 336.0C153.0 340.7 152.0 339.3 150.0 341.0" fill="none" stroke="#d8603a" stroke-width="0.8" opacity="0.8"/>
<path d="M165.0 320.0C162.7 320.3 162.3 319.7 158.0 321.0C153.7 322.3 154.0 323.0 152.0 324.0" fill="none" stroke="#d8603a" stroke-width="0.8" opacity="0.8"/>
<path d="M64.3 238.0L75.6 229.8Q82.0 229.9 85.0 235.5Q90.8 239.5 91.0 246.5Q96.2 251.4 95.5 258.5Q100.0 263.8 98.3 270.5Q102.2 275.8 99.8 282.0Q103.2 287.4 100.2 293.0Q103.2 298.6 99.8 304.0Q102.2 310.2 98.3 315.5Q100.0 322.2 95.5 327.5Q96.2 334.6 91.0 339.5Q90.8 346.5 85.0 350.5Q82.0 356.1 75.6 356.2L64.3 348.0C65.2 344.0 64.9 346.0 67.0 336.0C69.1 326.0 68.6 332.3 70.5 318.0C72.4 303.7 72.6 309.7 72.6 293.0C72.6 276.3 72.4 282.3 70.5 268.0C68.6 253.7 69.1 260.0 67.0 250.0C64.9 240.0 65.2 242.0 64.3 238.0Z" fill="url(#gCilEye)"/>
<g filter="url(#fBlur1)">
<path d="M80.8 232.7 L66.4 241.1" stroke="#eeaa78" stroke-width="4.4" stroke-linecap="round" opacity="0.7"/>
<path d="M88.5 241.0 L68.7 248.3" stroke="#eeaa78" stroke-width="4.4" stroke-linecap="round" opacity="0.7"/>
<path d="M93.8 252.5 L71.4 258.2" stroke="#eeaa78" stroke-width="4.4" stroke-linecap="round" opacity="0.7"/>
<path d="M97.4 264.5 L73.5 268.5" stroke="#eeaa78" stroke-width="4.4" stroke-linecap="round" opacity="0.7"/>
<path d="M99.5 276.2 L74.8 278.6" stroke="#eeaa78" stroke-width="4.4" stroke-linecap="round" opacity="0.7"/>
<path d="M100.5 287.5 L75.4 288.3" stroke="#eeaa78" stroke-width="4.4" stroke-linecap="round" opacity="0.7"/>
<path d="M100.5 298.5 L75.4 297.7" stroke="#eeaa78" stroke-width="4.4" stroke-linecap="round" opacity="0.7"/>
<path d="M99.5 309.8 L74.8 307.4" stroke="#eeaa78" stroke-width="4.4" stroke-linecap="round" opacity="0.7"/>
<path d="M97.4 321.5 L73.5 317.5" stroke="#eeaa78" stroke-width="4.4" stroke-linecap="round" opacity="0.7"/>
<path d="M93.8 333.5 L71.4 327.8" stroke="#eeaa78" stroke-width="4.4" stroke-linecap="round" opacity="0.7"/>
<path d="M88.5 345.0 L68.7 337.7" stroke="#eeaa78" stroke-width="4.4" stroke-linecap="round" opacity="0.7"/>
<path d="M80.8 353.4 L66.4 344.9" stroke="#eeaa78" stroke-width="4.4" stroke-linecap="round" opacity="0.7"/>
<path d="M85.0 235.5 L66.2 243.6" stroke="#b8622f" stroke-width="1.6" opacity="0.45"/>
<path d="M91.0 246.5 L69.1 253.0" stroke="#b8622f" stroke-width="1.6" opacity="0.45"/>
<path d="M95.5 258.5 L71.5 263.3" stroke="#b8622f" stroke-width="1.6" opacity="0.45"/>
<path d="M98.3 270.5 L73.2 273.6" stroke="#b8622f" stroke-width="1.6" opacity="0.45"/>
<path d="M99.8 282.0 L74.2 283.5" stroke="#b8622f" stroke-width="1.6" opacity="0.45"/>
<path d="M100.2 293.0 L74.5 293.0" stroke="#b8622f" stroke-width="1.6" opacity="0.45"/>
<path d="M99.8 304.0 L74.2 302.5" stroke="#b8622f" stroke-width="1.6" opacity="0.45"/>
<path d="M98.3 315.5 L73.2 312.4" stroke="#b8622f" stroke-width="1.6" opacity="0.45"/>
<path d="M95.5 327.5 L71.5 322.7" stroke="#b8622f" stroke-width="1.6" opacity="0.45"/>
<path d="M91.0 339.5 L69.1 333.0" stroke="#b8622f" stroke-width="1.6" opacity="0.45"/>
<path d="M85.0 350.5 L66.2 342.4" stroke="#b8622f" stroke-width="1.6" opacity="0.45"/>
</g>
<path d="M64.3 238.5C64.5 242.3 63.9 241.8 64.8 250.0C65.7 258.2 65.1 253.0 67.0 263.0C68.9 273.0 69.0 270.0 70.6 280.0C72.2 290.0 71.8 284.3 71.8 293.0C71.8 301.7 72.2 296.0 70.6 306.0C69.0 316.0 68.9 313.0 67.0 323.0C65.1 333.0 65.7 327.8 64.8 336.0C63.9 344.2 64.5 343.7 64.3 347.5L65.5 347.5C67.3 343.7 68.1 344.5 71.0 336.0C73.9 327.5 73.0 332.0 74.2 322.0C75.4 312.0 74.6 315.7 74.6 306.0C74.6 296.3 74.2 301.7 74.2 293.0C74.2 284.3 74.6 289.7 74.6 280.0C74.6 270.3 75.4 274.0 74.2 264.0C73.0 254.0 73.9 258.5 71.0 250.0C68.1 241.5 67.3 242.3 65.5 238.5Z" fill="url(#gDarkFace)"/>
<path d="M64.0 239.5L50.6 258.8L56.0 259.5L66.7 264.5L64.8 250.0Z" fill="#4a3226"/>
<path d="M59.6 246.0 L55.5 259.6" stroke="#f6cdb0" stroke-width="1.7"/>
<path d="M62.3 243.5 L60.3 261.2" stroke="#f6cdb0" stroke-width="1.7"/>
<path d="M64.4 242.0 L64.6 263.2" stroke="#f6cdb0" stroke-width="1.7"/>
<path d="M64.5 237.5C62.7 237.7 62.8 238.5 60.5 241.5C58.2 244.5 57.7 244.3 57.5 246.5C57.3 248.7 57.7 248.2 60.0 248.0C62.3 247.8 62.5 248.3 64.5 246.0C66.5 243.7 66.0 243.8 66.0 241.0C66.0 238.2 66.3 237.3 64.5 237.5Z" fill="#f5ad96"/>
<path d="M64.0 346.5L50.6 327.2L56.0 326.5L66.7 321.5L64.8 336.0Z" fill="#4a3226"/>
<path d="M59.6 340.0 L55.5 326.4" stroke="#f6cdb0" stroke-width="1.7"/>
<path d="M62.3 342.5 L60.3 324.8" stroke="#f6cdb0" stroke-width="1.7"/>
<path d="M64.4 344.0 L64.6 322.8" stroke="#f6cdb0" stroke-width="1.7"/>
<path d="M64.5 348.5C62.7 348.3 62.8 347.5 60.5 344.5C58.2 341.5 57.7 341.7 57.5 339.5C57.3 337.3 57.7 337.8 60.0 338.0C62.3 338.2 62.5 337.7 64.5 340.0C66.5 342.3 66.0 342.2 66.0 345.0C66.0 347.8 66.3 348.7 64.5 348.5Z" fill="#f5ad96"/>
<path d="M45.9 248.2C44.2 249.6 44.0 249.4 40.9 252.4C37.7 255.3 39.2 253.8 36.4 257.1C33.6 260.4 34.9 258.7 32.5 262.3C30.1 265.9 31.2 264.1 29.3 267.9C27.3 271.8 28.2 269.8 26.7 273.9C25.2 278.0 25.8 275.9 24.8 280.1C23.8 284.3 24.2 282.2 23.7 286.5C23.2 290.8 23.3 288.7 23.3 293.0C23.3 297.3 23.2 295.2 23.7 299.5C24.2 303.8 23.8 301.7 24.8 305.9C25.8 310.1 25.2 308.0 26.7 312.1C28.2 316.2 27.3 314.2 29.3 318.1C31.2 321.9 30.1 320.1 32.5 323.7C34.9 327.3 33.6 325.6 36.4 328.9C39.2 332.2 37.7 330.7 40.9 333.6C44.0 336.6 44.2 336.4 45.9 337.8L53.0 331.2C50.3 330.7 48.9 331.5 44.9 329.6C40.9 327.6 43.4 328.3 40.9 325.3C38.3 322.4 39.5 323.9 37.3 320.6C35.2 317.4 36.2 319.1 34.4 315.6C32.6 312.1 33.4 313.9 32.1 310.2C30.7 306.6 31.3 308.4 30.4 304.6C29.5 300.8 29.8 302.7 29.3 298.8C28.9 295.0 29.0 296.9 29.0 293.0C29.0 289.1 28.9 291.0 29.3 287.2C29.8 283.3 29.5 285.2 30.4 281.4C31.3 277.6 30.7 279.4 32.1 275.8C33.4 272.1 32.6 273.9 34.4 270.4C36.2 266.9 35.2 268.6 37.3 265.4C39.5 262.1 38.3 263.6 40.9 260.7C43.4 257.7 40.9 258.4 44.9 256.4C48.9 254.5 50.3 255.3 53.0 254.8Z" fill="#ffffff"/>
<path d="M30.8 265.1C30.0 266.6 29.9 266.5 28.5 269.5C27.2 272.4 27.8 270.9 26.7 273.9C25.6 277.0 26.0 275.5 25.2 278.6C24.4 281.7 24.7 280.1 24.1 283.3C23.6 286.5 23.8 284.9 23.5 288.1C23.2 291.4 23.3 289.8 23.3 293.0C23.3 296.2 23.2 294.6 23.5 297.9C23.8 301.1 23.6 299.5 24.1 302.7C24.7 305.9 24.4 304.3 25.2 307.4C26.0 310.5 25.6 309.0 26.7 312.1C27.8 315.1 27.2 313.6 28.5 316.5C29.9 319.5 30.0 319.4 30.8 320.9L35.7 318.0C35.0 316.7 34.9 316.8 33.7 314.1C32.5 311.5 33.0 312.8 32.0 310.1C31.0 307.4 31.5 308.7 30.7 305.9C30.0 303.1 30.3 304.5 29.8 301.7C29.3 298.8 29.4 300.3 29.2 297.4C28.9 294.5 29.0 295.9 29.0 293.0C29.0 290.1 28.9 291.5 29.2 288.6C29.4 285.7 29.3 287.2 29.8 284.3C30.3 281.5 30.0 282.9 30.7 280.1C31.5 277.3 31.0 278.6 32.0 275.9C33.0 273.2 32.5 274.5 33.7 271.9C34.9 269.2 35.0 269.3 35.7 268.0Z" fill="#c9ebf9"/>
<path d="M36.3 257.2C35.8 257.8 35.8 257.8 34.8 259.1C33.8 260.4 34.3 259.7 33.4 261.1C32.4 262.4 32.9 261.7 32.0 263.1C31.2 264.4 31.2 264.5 30.8 265.1L35.7 268.0C36.1 267.4 36.0 267.4 36.8 266.1C37.6 264.9 37.2 265.5 38.0 264.3C38.9 263.1 38.4 263.7 39.3 262.6C40.2 261.4 40.2 261.4 40.7 260.9Z" fill="#e6f6fc"/>
<path d="M30.8 320.9C31.2 321.5 31.2 321.6 32.0 322.9C32.9 324.3 32.4 323.6 33.4 324.9C34.3 326.3 33.8 325.6 34.8 326.9C35.8 328.2 35.8 328.2 36.3 328.8L40.7 325.1C40.2 324.6 40.2 324.6 39.3 323.4C38.4 322.3 38.9 322.9 38.0 321.7C37.2 320.5 37.6 321.1 36.8 319.9C36.0 318.6 36.1 318.6 35.7 318.0Z" fill="#e6f6fc"/>
<path d="M32.3 262.7C31.4 264.2 31.2 264.1 29.6 267.3C28.0 270.4 28.7 268.8 27.4 272.1C26.0 275.4 26.6 273.8 25.6 277.2C24.6 280.6 25.0 278.9 24.3 282.4C23.6 285.9 23.9 284.1 23.6 287.7C23.2 291.2 23.3 289.4 23.3 293.0C23.3 296.6 23.2 294.8 23.6 298.3C23.9 301.9 23.6 300.1 24.3 303.6C25.0 307.1 24.6 305.4 25.6 308.8C26.6 312.2 26.0 310.6 27.4 313.9C28.7 317.2 28.0 315.6 29.6 318.7C31.2 321.9 31.4 321.8 32.3 323.3L31.5 318.3C31.5 317.6 31.9 318.1 31.4 316.2C30.8 314.3 30.7 315.0 29.7 312.6C28.8 310.1 29.2 311.3 28.4 308.8C27.6 306.2 28.0 307.5 27.4 304.9C26.8 302.3 27.0 303.6 26.6 301.0C26.2 298.3 26.4 299.7 26.2 297.0C25.9 294.3 26.0 295.7 26.0 293.0C26.0 290.3 25.9 291.7 26.2 289.0C26.4 286.3 26.2 287.7 26.6 285.0C27.0 282.4 26.8 283.7 27.4 281.1C28.0 278.5 27.6 279.8 28.4 277.2C29.2 274.7 28.8 275.9 29.7 273.4C30.7 271.0 30.8 271.7 31.4 269.8C31.9 267.9 31.5 268.4 31.5 267.7Z" fill="#4fb2ec"/>
<path d="M45.9 248.2C44.2 249.6 44.0 249.4 40.9 252.4C37.7 255.3 39.2 253.8 36.4 257.1C33.6 260.4 34.9 258.7 32.5 262.3C30.1 265.9 31.2 264.1 29.3 267.9C27.3 271.8 28.2 269.8 26.7 273.9C25.2 278.0 25.8 275.9 24.8 280.1C23.8 284.3 24.2 282.2 23.7 286.5C23.2 290.8 23.3 288.7 23.3 293.0C23.3 297.3 23.2 295.2 23.7 299.5C24.2 303.8 23.8 301.7 24.8 305.9C25.8 310.1 25.2 308.0 26.7 312.1C28.2 316.2 27.3 314.2 29.3 318.1C31.2 321.9 30.1 320.1 32.5 323.7C34.9 327.3 33.6 325.6 36.4 328.9C39.2 332.2 37.7 330.7 40.9 333.6C44.0 336.6 44.2 336.4 45.9 337.8" fill="none" stroke="#3f7fbd" stroke-width="0.8"/>
<path d="M41.7 259.4C40.4 261.0 40.2 260.9 37.9 264.2C35.5 267.5 36.6 265.8 34.7 269.4C32.8 273.0 33.6 271.2 32.1 275.0C30.7 278.8 31.3 276.9 30.3 280.9C29.3 284.8 29.7 282.8 29.2 286.9C28.7 290.9 28.8 288.9 28.8 293.0C28.8 297.1 28.7 295.1 29.2 299.1C29.7 303.2 29.3 301.2 30.3 305.1C31.3 309.1 30.7 307.2 32.1 311.0C33.6 314.8 32.8 313.0 34.7 316.6C36.6 320.2 35.5 318.5 37.9 321.8C40.2 325.1 40.4 325.0 41.7 326.6L46.9 321.9C45.8 320.5 45.6 320.7 43.6 317.8C41.6 314.9 42.5 316.4 40.9 313.3C39.2 310.2 39.9 311.8 38.7 308.5C37.4 305.2 37.9 306.9 37.1 303.5C36.2 300.0 36.5 301.7 36.1 298.3C35.7 294.8 35.8 296.5 35.8 293.0C35.8 289.5 35.7 291.2 36.1 287.7C36.5 284.3 36.2 286.0 37.1 282.5C37.9 279.1 37.4 280.8 38.7 277.5C39.9 274.2 39.2 275.8 40.9 272.7C42.5 269.6 41.6 271.1 43.6 268.2C45.6 265.3 45.8 265.5 46.9 264.1Z" fill="#2ea4e8"/>
<path d="M42.0 326.3 L46.5 322.3" stroke="#86d0f5" stroke-width="0.6"/>
<path d="M40.8 324.9 L45.4 321.1" stroke="#86d0f5" stroke-width="0.6"/>
<path d="M39.7 323.5 L44.4 319.8" stroke="#86d0f5" stroke-width="0.6"/>
<path d="M38.6 322.1 L43.4 318.6" stroke="#86d0f5" stroke-width="0.6"/>
<path d="M37.5 320.6 L42.5 317.2" stroke="#86d0f5" stroke-width="0.6"/>
<path d="M36.5 319.0 L41.7 315.9" stroke="#86d0f5" stroke-width="0.6"/>
<path d="M35.6 317.4 L40.8 314.5" stroke="#86d0f5" stroke-width="0.6"/>
<path d="M34.7 315.8 L40.1 313.1" stroke="#86d0f5" stroke-width="0.6"/>
<path d="M33.9 314.2 L39.4 311.6" stroke="#86d0f5" stroke-width="0.6"/>
<path d="M33.2 312.5 L38.7 310.2" stroke="#86d0f5" stroke-width="0.6"/>
<path d="M32.5 310.8 L38.1 308.7" stroke="#86d0f5" stroke-width="0.6"/>
<path d="M31.9 309.1 L37.6 307.2" stroke="#86d0f5" stroke-width="0.6"/>
<path d="M31.3 307.4 L37.1 305.7" stroke="#86d0f5" stroke-width="0.6"/>
<path d="M30.8 305.6 L36.6 304.1" stroke="#86d0f5" stroke-width="0.6"/>
<path d="M30.4 303.9 L36.3 302.6" stroke="#86d0f5" stroke-width="0.6"/>
<path d="M30.0 302.1 L35.9 301.0" stroke="#86d0f5" stroke-width="0.6"/>
<path d="M29.7 300.3 L35.7 299.4" stroke="#86d0f5" stroke-width="0.6"/>
<path d="M29.5 298.5 L35.5 297.8" stroke="#86d0f5" stroke-width="0.6"/>
<path d="M29.3 296.6 L35.3 296.2" stroke="#86d0f5" stroke-width="0.6"/>
<path d="M29.2 294.8 L35.2 294.6" stroke="#86d0f5" stroke-width="0.6"/>
<path d="M29.2 293.0 L35.2 293.0" stroke="#86d0f5" stroke-width="0.6"/>
<path d="M29.2 291.2 L35.2 291.4" stroke="#86d0f5" stroke-width="0.6"/>
<path d="M29.3 289.4 L35.3 289.8" stroke="#86d0f5" stroke-width="0.6"/>
<path d="M29.5 287.5 L35.5 288.2" stroke="#86d0f5" stroke-width="0.6"/>
<path d="M29.7 285.7 L35.7 286.6" stroke="#86d0f5" stroke-width="0.6"/>
<path d="M30.0 283.9 L35.9 285.0" stroke="#86d0f5" stroke-width="0.6"/>
<path d="M30.4 282.1 L36.3 283.4" stroke="#86d0f5" stroke-width="0.6"/>
<path d="M30.8 280.4 L36.6 281.9" stroke="#86d0f5" stroke-width="0.6"/>
<path d="M31.3 278.6 L37.1 280.3" stroke="#86d0f5" stroke-width="0.6"/>
<path d="M31.9 276.9 L37.6 278.8" stroke="#86d0f5" stroke-width="0.6"/>
<path d="M32.5 275.2 L38.1 277.3" stroke="#86d0f5" stroke-width="0.6"/>
<path d="M33.2 273.5 L38.7 275.8" stroke="#86d0f5" stroke-width="0.6"/>
<path d="M33.9 271.8 L39.4 274.4" stroke="#86d0f5" stroke-width="0.6"/>
<path d="M34.7 270.2 L40.1 272.9" stroke="#86d0f5" stroke-width="0.6"/>
<path d="M35.6 268.6 L40.8 271.5" stroke="#86d0f5" stroke-width="0.6"/>
<path d="M36.5 267.0 L41.7 270.1" stroke="#86d0f5" stroke-width="0.6"/>
<path d="M37.5 265.4 L42.5 268.8" stroke="#86d0f5" stroke-width="0.6"/>
<path d="M38.6 263.9 L43.4 267.4" stroke="#86d0f5" stroke-width="0.6"/>
<path d="M39.7 262.5 L44.4 266.2" stroke="#86d0f5" stroke-width="0.6"/>
<path d="M40.8 261.1 L45.4 264.9" stroke="#86d0f5" stroke-width="0.6"/>
<path d="M42.0 259.7 L46.5 263.7" stroke="#86d0f5" stroke-width="0.6"/>
<path d="M37.3 281.0C37.0 282.3 36.8 282.3 36.3 285.0C35.9 287.6 36.0 286.3 35.8 289.0C35.5 291.6 35.6 290.3 35.6 293.0C35.6 295.7 35.5 294.4 35.8 297.0C36.0 299.7 35.9 298.4 36.3 301.0C36.8 303.7 37.0 303.7 37.3 305.0L41.5 305.0C41.7 301.0 42.0 301.0 42.0 293.0C42.0 285.0 41.7 285.0 41.5 281.0Z" fill="#0a0a0a"/>
<ellipse cx="56" cy="292.5" rx="15.7" ry="33" fill="url(#gLensEye)"/>
<path d="M66.0 238.5C63.3 241.5 63.1 240.7 58.0 247.5C52.9 254.3 54.3 253.1 50.6 258.8C46.9 264.5 49.4 260.4 47.0 264.5C44.6 268.6 45.5 266.2 43.4 271.0C41.3 275.8 42.1 274.0 40.8 279.0C39.5 284.0 40.0 283.7 39.6 286.0" fill="none" stroke="#f6b39d" stroke-width="2" stroke-linecap="round"/>
<path d="M66.0 347.5C63.3 344.5 63.1 345.3 58.0 338.5C52.9 331.7 54.3 332.9 50.6 327.2C46.9 321.5 49.4 325.6 47.0 321.5C44.6 317.4 45.5 319.8 43.4 315.0C41.3 310.2 42.1 312.0 40.8 307.0C39.5 302.0 40.0 302.3 39.6 300.0" fill="none" stroke="#f6b39d" stroke-width="2" stroke-linecap="round"/>
<g filter="url(#fBlur2)">
<ellipse cx="188" cy="304.5" rx="23" ry="10" transform="rotate(14 188 304.5)" fill="#e4481e" opacity="0.95"/>
<ellipse cx="185" cy="303.5" rx="14" ry="6.5" transform="rotate(14 185 303.5)" fill="#d02c14"/>
</g>
<path d="M173.0 304.0C174.0 303.7 174.0 303.8 176.0 303.0C178.0 302.2 177.0 301.2 179.0 301.5C181.0 301.8 180.0 302.8 182.0 304.0C184.0 305.2 183.0 305.5 185.0 305.0C187.0 304.5 186.0 302.8 188.0 302.5C190.0 302.2 189.0 302.5 191.0 304.0C193.0 305.5 191.7 305.5 194.0 307.0C196.3 308.5 196.7 308.0 198.0 308.5" fill="none" stroke="#2a0a08" stroke-width="2.3" stroke-linecap="round" filter="url(#fBlur05)"/>
<g transform="translate(115.3 257.0) rotate(-90.0)"><path d="M0 0 L25.0 0" stroke="#9c1c24" stroke-width="1.4"/><path d="M29.0 0 L22.0 -3.1 L22.0 3.1 Z" fill="#9c1c24"/></g>
<g transform="translate(115.3 326.2) rotate(90.0)"><path d="M0 0 L24.3 0" stroke="#9c1c24" stroke-width="1.4"/><path d="M28.3 0 L21.3 -3.1 L21.3 3.1 Z" fill="#9c1c24"/></g>
<g transform="translate(90.6 265.0) rotate(-138.2)"><path d="M0 0 L25.0 0" stroke="#9c1c24" stroke-width="1.4"/><path d="M29.0 0 L22.0 -3.1 L22.0 3.1 Z" fill="#9c1c24"/></g>
<g transform="translate(90.6 316.5) rotate(138.2)"><path d="M0 0 L25.0 0" stroke="#9c1c24" stroke-width="1.4"/><path d="M29.0 0 L22.0 -3.1 L22.0 3.1 Z" fill="#9c1c24"/></g>
<g transform="translate(142.0 265.0) rotate(-45.9)"><path d="M0 0 L23.9 0" stroke="#9c1c24" stroke-width="1.4"/><path d="M27.9 0 L20.9 -3.1 L20.9 3.1 Z" fill="#9c1c24"/></g>
<g transform="translate(140.4 316.5) rotate(44.0)"><path d="M0 0 L23.8 0" stroke="#9c1c24" stroke-width="1.4"/><path d="M27.8 0 L20.8 -3.1 L20.8 3.1 Z" fill="#9c1c24"/></g>
<g transform="translate(138.8 288.5) rotate(19.5)"><path d="M0 0 L25.1 0" stroke="#9c1c24" stroke-width="1.4"/><path d="M29.1 0 L22.1 -3.1 L22.1 3.1 Z" fill="#9c1c24"/></g></g>
<g mask="url(#mNS)">
<path d="M474.5 240.6 L496.3 231.4 L530 231.4 L530 379 L497.2 379 L474.5 361.8 Z" fill="url(#gFace)"/>
<path d="M474.5 240.6 L496.3 231.4 L530 231.4 L530 379 L497.2 379 L474.5 361.8 Z" fill="url(#gFaceV)"/>
<path d="M474.5 240.6 L496.3 231.4 L530 231.4 L530 379 L497.2 379 L474.5 361.8 Z" fill="url(#gFaceHot)"/>
<use href="#massU" fill="url(#gMassV)"/>
<g clip-path="url(#clipMassU)">
<ellipse cx="524" cy="305.5" rx="66" ry="46" fill="url(#gHot)"/>
<g filter="url(#fBlur2)"><rect x="560" y="250.0" width="120" height="46.0" fill="url(#gYelR)"/></g>
<path d="M500.0 232.0 L500.0 250.2 C500.0 278.2 520.0 290.2 564.0 290.2 L673 288.2" fill="none" stroke="#d9701a" stroke-width="1.4" opacity="0.45"/>
<path d="M503.5 232.0 L503.5 248.6 C503.5 273.8 521.5 284.6 561.1 284.6 L673 282.6" fill="none" stroke="#fbd04a" stroke-width="1.4" opacity="0.35"/>
<path d="M507.0 232.0 L507.0 247.0 C507.0 269.4 523.0 279.0 558.2 279.0 L673 277.0" fill="none" stroke="#c8501a" stroke-width="1.2" opacity="0.40"/>
<path d="M510.5 232.0 L510.5 244.2 C510.5 264.5 525.0 273.2 556.9 273.2 L673 271.2" fill="none" stroke="#fbd04a" stroke-width="1.6" opacity="0.30"/>
<path d="M513.5 232.0 L513.5 242.3 C513.5 260.5 526.5 268.3 555.1 268.3 L673 266.3" fill="none" stroke="#c8501a" stroke-width="1.1" opacity="0.40"/>
<path d="M516.5 232.0 L516.5 239.2 C516.5 256.0 528.5 263.2 554.9 263.2 L673 261.2" fill="none" stroke="#e98a1c" stroke-width="1.3" opacity="0.40"/>
<path d="M548 264.5 C580 263.0 620 262.0 673 262.0" fill="none" stroke="#c98a1e" stroke-width="1.0" opacity="0.60"/>
<path d="M548 269.5 C580 268.0 620 267.0 673 267.0" fill="none" stroke="#e0a030" stroke-width="1.4" opacity="0.50"/>
<path d="M548 276.5 C580 275.0 620 274.0 673 274.0" fill="none" stroke="#d0801e" stroke-width="0.9" opacity="0.55"/>
<path d="M548 284.5 C580 283.0 620 282.0 673 282.0" fill="none" stroke="#e58a28" stroke-width="1.6" opacity="0.50"/>
<path d="M548 292.5 C580 291.0 620 290.0 673 290.0" fill="none" stroke="#c9601a" stroke-width="1.0" opacity="0.50"/>
<path d="M548 298.5 C580 297.0 620 296.0 673 296.0" fill="none" stroke="#d44a1a" stroke-width="1.2" opacity="0.50"/>
<path d="M496.6 252.0 C496.8 258.0 497.5 266.0 500 274.0 C504 289.0 511 300.0 523 304.5" fill="none" stroke="#7a3a14" stroke-width="2.6" opacity="0.75"/>
<path d="M523 227.5 L535.8 227.2 C536 240.0 536.5 250.0 539 255.0 C541 258.5 545 259.5 552 259.0 C542 267.0 530 262.0 524.5 250.0 Z" fill="#f08a1e"/>
<path d="M530 228.0 C530.5 240.0 531 250.0 534 256.0 C536 260.0 540 262.5 547 262.5" fill="none" stroke="#fbd24a" stroke-width="2.2" opacity="0.8"/>
<path d="M535.3 227.2 C535.6 240.0 536 250.0 538.6 255.0 C540.6 258.8 545 259.8 552 259.3 L673 257.5" fill="none" stroke="#7c3b10" stroke-width="1.7"/>
<path d="M520.6 229.5 C521 242.0 521.5 251.0 524.5 257.5 C527 262.0 530 264.5 534 265.5" fill="none" stroke="#fff3d0" stroke-width="3" stroke-dasharray="2.2 1.2"/>
</g>
<use href="#massL" fill="url(#gMassV)"/>
<g clip-path="url(#clipMassL)">
<ellipse cx="524" cy="305.5" rx="66" ry="46" fill="url(#gHot)"/>
<g filter="url(#fBlur2)"><rect x="560" y="313.0" width="120" height="46.0" fill="url(#gYelR)"/></g>
<path d="M500.0 374.8 L500.0 353.4 C500.0 328.1 520.0 318.2 564.0 318.2 L673 319.8" fill="none" stroke="#d9701a" stroke-width="1.4" opacity="0.45"/>
<path d="M503.5 374.8 L503.5 355.3 C503.5 331.7 521.5 322.8 561.1 322.8 L673 324.4" fill="none" stroke="#fbd04a" stroke-width="1.4" opacity="0.35"/>
<path d="M507.0 374.8 L507.0 357.2 C507.0 335.3 523.0 327.4 558.2 327.4 L673 329.1" fill="none" stroke="#c8501a" stroke-width="1.2" opacity="0.40"/>
<path d="M510.5 374.8 L510.5 360.4 C510.5 339.4 525.0 332.2 556.9 332.2 L673 333.8" fill="none" stroke="#fbd04a" stroke-width="1.6" opacity="0.30"/>
<path d="M513.5 374.8 L513.5 362.7 C513.5 342.7 526.5 336.2 555.1 336.2 L673 337.9" fill="none" stroke="#c8501a" stroke-width="1.1" opacity="0.40"/>
<path d="M516.5 374.8 L516.5 366.3 C516.5 346.5 528.5 340.4 554.9 340.4 L673 342.1" fill="none" stroke="#e98a1c" stroke-width="1.3" opacity="0.40"/>
<path d="M548 339.4 C580 340.6 620 341.5 673 341.5" fill="none" stroke="#c98a1e" stroke-width="1.0" opacity="0.60"/>
<path d="M548 335.3 C580 336.5 620 337.3 673 337.3" fill="none" stroke="#e0a030" stroke-width="1.4" opacity="0.50"/>
<path d="M548 329.5 C580 330.7 620 331.5 673 331.5" fill="none" stroke="#d0801e" stroke-width="0.9" opacity="0.55"/>
<path d="M548 322.9 C580 324.1 620 324.9 673 324.9" fill="none" stroke="#e58a28" stroke-width="1.6" opacity="0.50"/>
<path d="M548 316.2 C580 317.5 620 318.3 673 318.3" fill="none" stroke="#c9601a" stroke-width="1.0" opacity="0.50"/>
<path d="M548 311.3 C580 312.5 620 313.4 673 313.4" fill="none" stroke="#d44a1a" stroke-width="1.2" opacity="0.50"/>
<path d="M496.6 351.3 C496.8 344.8 497.5 338.1 500 331.5 C504 319.1 511 310.0 523 306.3" fill="none" stroke="#7a3a14" stroke-width="2.6" opacity="0.75"/>
<path d="M523 380.1 L535.8 380.4 C536 365.4 536.5 353.6 539 347.8 C541 344.3 545 343.5 552 343.9 C542 337.3 530 341.5 524.5 353.6 Z" fill="#f08a1e"/>
<path d="M530 379.5 C530.5 365.4 531 353.6 534 346.6 C536 343.1 540 341.0 547 341.0" fill="none" stroke="#fbd24a" stroke-width="2.2" opacity="0.8"/>
<path d="M535.3 380.4 C535.6 365.4 536 353.6 538.6 347.8 C540.6 344.1 545 343.3 552 343.7 L673 345.2" fill="none" stroke="#7c3b10" stroke-width="1.7"/>
<path d="M520.6 377.7 C521 363.0 521.5 352.5 524.5 345.2 C527 341.5 530 339.4 534 338.6" fill="none" stroke="#fff3d0" stroke-width="3" stroke-dasharray="2.2 1.2"/>
</g>
<path d="M497 305.5 C505 305.2 515 305.8 525 305.6 L673 305.6" fill="none" stroke="#5a1c0c" stroke-width="2.4" opacity="0.75"/>
<ellipse cx="520" cy="305.5" rx="24" ry="3.2" fill="#2a0f08" opacity="0.9"/>
<path d="M479.0 240.5C479.2 244.3 478.7 244.8 479.5 252.0C480.3 259.2 479.3 255.7 481.5 262.0C483.7 268.3 484.5 268.0 486.0 271.0" fill="none" stroke="#e2472c" stroke-width="3.2" stroke-linecap="round"/>
<path d="M490.5 237.0C490.7 241.3 491.5 241.7 491.0 250.0C490.5 258.3 490.7 255.0 489.0 262.0C487.3 269.0 487.3 264.3 486.0 271.0C484.7 277.7 485.2 274.3 485.0 282.0C484.8 289.7 484.7 287.8 485.5 294.0C486.3 300.2 484.7 297.7 487.5 300.5C490.3 303.3 486.5 301.9 494.0 302.5C501.5 303.1 494.7 302.2 510.0 302.3C525.3 302.4 521.7 302.5 540.0 302.8C558.3 303.1 548.3 303.5 565.0 303.2C581.7 302.9 575.0 302.8 590.0 302.0C605.0 301.2 595.0 301.0 610.0 300.8C625.0 300.6 614.0 301.3 635.0 301.5C656.0 301.7 660.3 301.5 673.0 301.5" fill="none" stroke="#e2472c" stroke-width="3.2" stroke-linecap="round"/>
<path d="M490.0 238.0C490.1 242.0 490.9 242.0 490.4 250.0C489.9 258.0 490.1 255.0 488.4 262.0C486.7 269.0 486.7 264.3 485.4 271.0C484.1 277.7 484.6 274.3 484.4 282.0C484.2 289.7 484.7 290.0 484.9 294.0" fill="none" stroke="#f8907a" stroke-width="0.8" opacity="0.8"/>
<path d="M473.8 358.6C474.5 354.1 474.4 352.9 476.0 345.0C477.6 337.1 476.7 341.0 478.7 335.0C480.7 329.0 479.4 331.5 482.0 327.0C484.6 322.5 482.5 325.8 486.5 321.5C490.5 317.2 488.5 318.0 494.0 314.0C499.5 310.0 494.3 311.3 503.0 309.5C511.7 307.7 506.0 308.9 520.0 308.6C534.0 308.3 536.7 308.6 545.0 308.6" fill="none" stroke="#3a9ccb" stroke-width="3.2" stroke-linecap="round"/>
<path d="M484.5 368.4C484.1 364.9 483.6 363.9 483.3 358.0C483.0 352.1 483.0 356.5 483.6 350.8C484.2 345.1 483.7 346.9 485.0 341.0C486.3 335.1 485.8 338.3 487.5 333.0C489.2 327.7 487.8 330.0 490.0 325.0C492.2 320.0 492.7 320.3 494.0 318.0" fill="none" stroke="#3a9ccb" stroke-width="3.0" stroke-linecap="round"/>
<path d="M585.0 308.8C590.0 308.7 586.7 308.9 600.0 308.6C613.3 308.3 600.7 308.2 625.0 308.0C649.3 307.8 657.0 308.0 673.0 308.0" fill="none" stroke="#3fc4d4" stroke-width="3.2" stroke-linecap="round"/>
<path d="M540.0 308.6C546.7 308.7 544.7 308.7 560.0 308.8C575.3 308.9 577.3 308.8 586.0 308.8" fill="none" stroke="#2f8fb5" stroke-width="2.6"/>
<path d="M474.8 350.0C475.5 346.7 475.3 346.3 477.0 340.0C478.7 333.7 477.3 336.8 480.0 331.0C482.7 325.2 481.0 327.8 485.0 322.5C489.0 317.2 489.7 317.5 492.0 315.0" fill="none" stroke="#8fd6ee" stroke-width="0.8" opacity="0.8"/>
<path d="M549.5 257.0C549.5 259.5 550.9 259.5 549.5 264.5C548.1 269.5 546.3 267.0 545.3 272.0C544.3 277.0 544.3 274.5 546.5 279.5C548.7 284.5 550.1 282.0 551.9 287.0C553.7 292.0 553.3 289.5 551.9 294.5C550.5 299.5 549.1 297.0 547.7 302.0C546.3 307.0 546.3 304.5 547.7 309.5C549.1 314.5 550.9 312.0 551.9 317.0C552.9 322.0 552.9 319.5 550.7 324.5C548.5 329.5 547.1 327.0 545.3 332.0C543.5 337.0 543.9 334.5 545.3 339.5C546.7 344.5 548.1 344.5 549.5 347.0" fill="none" stroke="#7d5f7c" stroke-width="1.1" opacity="0.8"/>
<path d="M544.1 257.0C544.5 259.5 543.1 259.5 545.3 264.5C547.5 269.5 548.9 267.0 550.7 272.0C552.5 277.0 552.1 274.5 550.7 279.5C549.3 284.5 547.5 282.0 546.5 287.0C545.5 292.0 545.5 289.5 547.7 294.5C549.9 299.5 551.7 297.0 553.1 302.0C554.5 307.0 554.1 304.5 551.9 309.5C549.7 314.5 548.3 312.0 546.5 317.0C544.7 322.0 545.1 319.5 546.5 324.5C547.9 329.5 549.7 327.0 550.7 332.0C551.7 337.0 551.7 334.5 549.5 339.5C547.3 344.5 545.9 344.5 544.1 347.0" fill="none" stroke="#7d5f7c" stroke-width="1.1" opacity="0.8"/>
<path d="M554.3 257.0C554.0 259.5 551.9 259.5 553.4 264.5C554.8 269.5 556.1 267.0 558.5 272.0C560.9 277.0 561.3 274.5 560.6 279.5C560.0 284.5 558.3 282.0 556.7 287.0C555.1 292.0 554.3 289.5 555.8 294.5C557.2 299.5 558.9 297.0 560.9 302.0C562.9 307.0 563.3 304.5 561.8 309.5C560.4 314.5 559.1 312.0 556.7 317.0C554.3 322.0 553.9 319.5 554.6 324.5C555.2 329.5 556.9 327.0 558.5 332.0C560.1 337.0 560.9 334.5 559.4 339.5C558.0 344.5 556.0 344.5 554.3 347.0" fill="none" stroke="#7d5f7c" stroke-width="1.1" opacity="0.8"/>
<path d="M557.3 257.0C558.0 259.5 560.1 259.5 559.4 264.5C558.8 269.5 557.1 267.0 555.5 272.0C553.9 277.0 553.1 274.5 554.6 279.5C556.0 284.5 557.3 282.0 559.7 287.0C562.1 292.0 562.5 289.5 561.8 294.5C561.2 299.5 559.9 297.0 557.9 302.0C555.9 307.0 555.1 304.5 555.8 309.5C556.4 314.5 558.1 312.0 559.7 317.0C561.3 322.0 562.1 319.5 560.6 324.5C559.2 329.5 557.9 327.0 555.5 332.0C553.1 337.0 552.7 334.5 553.4 339.5C554.0 344.5 556.0 344.5 557.3 347.0" fill="none" stroke="#7d5f7c" stroke-width="1.1" opacity="0.8"/>
<path d="M536.0 230.5C538.3 232.0 538.0 232.3 543.0 235.0C548.0 237.7 545.3 236.8 551.0 238.5C556.7 240.2 552.0 239.3 560.0 240.0C568.0 240.7 564.7 240.5 575.0 240.5C585.3 240.5 579.3 240.8 591.0 240.0C602.7 239.2 599.0 239.1 610.0 238.0C621.0 236.9 612.3 237.6 624.0 236.7C635.7 235.8 630.3 236.1 645.0 235.2C659.7 234.3 660.3 234.4 668.0 234.0" fill="none" stroke="#dc4226" stroke-width="3.6" stroke-linecap="round"/>
<path d="M556.0 242.0C562.3 242.3 562.0 243.0 575.0 243.0C588.0 243.0 580.0 243.3 595.0 242.0C610.0 240.7 601.7 240.7 620.0 239.0C638.3 237.3 640.0 237.7 650.0 237.0" fill="none" stroke="#dc4226" stroke-width="1.6" stroke-linecap="round"/>
<path d="M536.5 237.0C539.3 238.0 538.5 238.7 545.0 240.0C551.5 241.3 552.3 240.7 556.0 241.0" fill="none" stroke="#dc4226" stroke-width="1.8" stroke-linecap="round"/>
<path d="M537.0 244.0C540.3 243.8 539.3 244.3 547.0 243.5C554.7 242.7 555.7 242.2 560.0 241.5" fill="none" stroke="#dc4226" stroke-width="1.8" stroke-linecap="round"/>
<path d="M538.0 250.0C540.7 249.3 540.3 250.0 546.0 248.0C551.7 246.0 548.3 246.3 555.0 244.0C561.7 241.7 562.3 242.0 566.0 241.0" fill="none" stroke="#dc4226" stroke-width="1.7" stroke-linecap="round"/>
<path d="M540.5 255.0C543.0 254.3 542.5 255.2 548.0 253.0C553.5 250.8 550.7 251.7 557.0 248.5C563.3 245.3 560.0 245.8 567.0 243.5C574.0 241.2 574.3 242.2 578.0 241.5" fill="none" stroke="#dc4226" stroke-width="1.7" stroke-linecap="round"/>
<path d="M546.0 257.5C550.7 257.3 550.3 257.5 560.0 257.0C569.7 256.5 567.3 257.3 575.0 256.0C582.7 254.7 577.3 253.8 583.0 253.0C588.7 252.2 586.3 252.8 592.0 253.5C597.7 254.2 594.0 255.2 600.0 255.0C606.0 254.8 603.3 253.3 610.0 253.0C616.7 252.7 610.0 253.3 620.0 254.0C630.0 254.7 625.0 254.5 640.0 255.0C655.0 255.5 656.7 255.3 665.0 255.5" fill="none" stroke="#dc4226" stroke-width="2.0" stroke-linecap="round"/>
<path d="M572.0 256.0C574.0 254.8 573.7 253.8 578.0 252.5C582.3 251.2 582.7 252.2 585.0 252.0" fill="none" stroke="#dc4226" stroke-width="1.1" stroke-linecap="round"/>
<path d="M551.0 238.0C554.0 238.5 552.0 238.8 560.0 239.4C568.0 240.0 564.7 239.8 575.0 239.8C585.3 239.8 579.3 240.1 591.0 239.3C602.7 238.5 599.0 238.4 610.0 237.3C621.0 236.2 612.3 236.9 624.0 236.0C635.7 235.1 638.0 235.1 645.0 234.6" fill="none" stroke="#f59a7c" stroke-width="0.9" opacity="0.8"/>
<path d="M565.3 256.0C565.9 257.8 567.2 257.8 567.1 261.5C566.9 265.2 565.2 263.6 564.9 267.1C564.6 270.5 565.8 270.2 566.2 271.8" fill="none" stroke="#c73b1e" stroke-width="0.9" opacity="0.85"/>
<path d="M566.6 262.3C565.1 263.2 564.3 263.0 562.1 265.0C559.9 267.0 560.6 267.2 559.9 268.2" fill="none" stroke="#c73b1e" stroke-width="0.8" opacity="0.8"/>
<path d="M576.5 256.0C577.0 257.7 578.3 257.7 578.0 261.1C577.7 264.6 576.0 263.1 575.5 266.3C575.0 269.5 576.2 269.2 576.5 270.7" fill="none" stroke="#c73b1e" stroke-width="0.9" opacity="0.85"/>
<path d="M577.5 261.9C578.2 262.7 578.2 262.6 579.6 264.5C581.0 266.4 581.0 266.5 581.7 267.6" fill="none" stroke="#c73b1e" stroke-width="0.8" opacity="0.8"/>
<path d="M587.7 256.0C588.2 258.0 589.5 258.0 589.3 261.9C589.0 265.9 587.3 264.2 586.9 267.8C586.5 271.5 587.6 271.2 588.0 272.9" fill="none" stroke="#c73b1e" stroke-width="0.9" opacity="0.85"/>
<path d="M588.8 262.8C587.3 263.6 586.6 263.5 584.5 265.4C582.4 267.3 583.1 267.5 582.4 268.6" fill="none" stroke="#c73b1e" stroke-width="0.8" opacity="0.8"/>
<path d="M599.8 256.0C600.3 258.5 601.7 258.5 601.4 263.5C601.2 268.6 599.5 266.4 599.1 271.1C598.8 275.8 599.9 275.4 600.3 277.6" fill="none" stroke="#c73b1e" stroke-width="0.9" opacity="0.85"/>
<path d="M600.9 264.6C601.6 265.5 601.6 265.3 603.0 267.3C604.4 269.2 604.4 269.4 605.1 270.5" fill="none" stroke="#c73b1e" stroke-width="0.8" opacity="0.8"/>
<path d="M607.2 256.0C607.7 257.9 609.1 257.9 608.8 261.8C608.5 265.7 606.9 264.0 606.4 267.7C606.0 271.3 607.2 271.0 607.5 272.7" fill="none" stroke="#c73b1e" stroke-width="0.9" opacity="0.85"/>
<path d="M608.3 262.7C609.1 263.6 609.1 263.4 610.6 265.5C612.1 267.6 612.1 267.8 612.9 268.9" fill="none" stroke="#c73b1e" stroke-width="0.8" opacity="0.8"/>
<path d="M618.6 256.0C619.0 257.8 620.3 257.8 619.7 261.4C619.1 265.0 617.5 263.4 616.8 266.8C616.0 270.1 617.2 269.9 617.4 271.4" fill="none" stroke="#c73b1e" stroke-width="0.9" opacity="0.85"/>
<path d="M619.2 262.2C617.2 263.7 616.4 263.4 613.1 266.7C609.9 270.0 610.7 270.3 609.5 272.2" fill="none" stroke="#c73b1e" stroke-width="0.8" opacity="0.8"/>
<path d="M630.4 256.0C630.7 258.4 632.1 258.4 631.4 263.3C630.6 268.2 629.0 266.1 628.1 270.6C627.2 275.1 628.4 274.8 628.5 276.9" fill="none" stroke="#c73b1e" stroke-width="0.9" opacity="0.85"/>
<path d="M630.9 264.3C629.6 265.3 629.1 265.1 627.1 267.1C625.1 269.1 625.7 269.3 624.9 270.4" fill="none" stroke="#c73b1e" stroke-width="0.8" opacity="0.8"/>
<path d="M644.3 256.0C644.8 258.5 646.1 258.5 645.8 263.5C645.4 268.5 643.7 266.4 643.2 271.0C642.7 275.6 643.9 275.3 644.2 277.4" fill="none" stroke="#c73b1e" stroke-width="0.9" opacity="0.85"/>
<path d="M645.3 264.6C646.5 265.8 646.6 265.6 648.9 268.4C651.1 271.2 650.9 271.5 651.9 273.0" fill="none" stroke="#c73b1e" stroke-width="0.8" opacity="0.8"/>
<path d="M536.0 376.6C538.3 374.8 538.0 374.4 543.0 371.3C548.0 368.1 545.3 369.1 551.0 367.1C556.7 365.2 552.0 366.2 560.0 365.4C568.0 364.6 564.7 364.8 575.0 364.8C585.3 364.8 579.3 364.4 591.0 365.4C602.7 366.4 599.0 366.4 610.0 367.7C621.0 369.0 612.3 368.2 624.0 369.3C635.7 370.4 630.3 370.0 645.0 371.0C659.7 372.1 660.3 372.0 668.0 372.4" fill="none" stroke="#dc4226" stroke-width="3.6" stroke-linecap="round"/>
<path d="M556.0 363.0C562.3 362.6 562.0 361.9 575.0 361.9C588.0 361.9 580.0 361.5 595.0 363.0C610.0 364.6 601.7 364.6 620.0 366.6C638.3 368.5 640.0 368.1 650.0 368.9" fill="none" stroke="#dc4226" stroke-width="1.6" stroke-linecap="round"/>
<path d="M536.5 368.9C539.3 367.7 538.5 367.0 545.0 365.4C551.5 363.8 552.3 364.6 556.0 364.2" fill="none" stroke="#dc4226" stroke-width="1.8" stroke-linecap="round"/>
<path d="M537.0 360.7C540.3 360.9 539.3 360.3 547.0 361.3C554.7 362.3 555.7 362.8 560.0 363.6" fill="none" stroke="#dc4226" stroke-width="1.8" stroke-linecap="round"/>
<path d="M538.0 353.6C540.7 354.4 540.3 353.6 546.0 356.0C551.7 358.3 548.3 357.9 555.0 360.7C561.7 363.4 562.3 363.0 566.0 364.2" fill="none" stroke="#dc4226" stroke-width="1.7" stroke-linecap="round"/>
<path d="M540.5 347.8C543.0 348.5 542.5 347.6 548.0 350.1C553.5 352.7 550.7 351.7 557.0 355.4C563.3 359.1 560.0 358.5 567.0 361.3C574.0 364.0 574.3 362.8 578.0 363.6" fill="none" stroke="#dc4226" stroke-width="1.7" stroke-linecap="round"/>
<path d="M546.0 345.2C550.7 345.3 550.3 345.1 560.0 345.6C569.7 346.1 567.3 345.1 575.0 346.6C582.7 348.1 577.3 349.1 583.0 350.1C588.7 351.1 586.3 350.3 592.0 349.5C597.7 348.7 594.0 347.6 600.0 347.8C606.0 348.0 603.3 349.7 610.0 350.1C616.7 350.5 610.0 349.7 620.0 348.9C630.0 348.2 625.0 348.3 640.0 347.8C655.0 347.2 656.7 347.4 665.0 347.2" fill="none" stroke="#dc4226" stroke-width="2.0" stroke-linecap="round"/>
<path d="M572.0 346.6C574.0 348.0 573.7 349.1 578.0 350.7C582.3 352.3 582.7 351.1 585.0 351.3" fill="none" stroke="#dc4226" stroke-width="1.1" stroke-linecap="round"/>
<path d="M551.0 367.7C554.0 367.2 552.0 366.8 560.0 366.1C568.0 365.4 564.7 365.6 575.0 365.6C585.3 365.7 579.3 365.2 591.0 366.2C602.7 367.2 599.0 367.3 610.0 368.6C621.0 369.9 612.3 369.0 624.0 370.1C635.7 371.1 638.0 371.2 645.0 371.7" fill="none" stroke="#f59a7c" stroke-width="0.9" opacity="0.8"/>
<path d="M565.8 346.6C566.6 344.5 567.8 344.5 568.1 340.4C568.3 336.4 566.5 338.1 566.6 334.4C566.7 330.7 567.8 331.0 568.4 329.3" fill="none" stroke="#c73b1e" stroke-width="0.9" opacity="0.85"/>
<path d="M567.6 339.6C565.5 338.6 564.4 338.8 561.4 336.5C558.4 334.3 559.5 334.1 558.5 332.9" fill="none" stroke="#c73b1e" stroke-width="0.8" opacity="0.8"/>
<path d="M575.7 346.6C576.3 344.6 577.6 344.5 577.5 340.6C577.3 336.6 575.6 338.4 575.3 334.8C575.0 331.2 576.1 331.4 576.5 329.8" fill="none" stroke="#c73b1e" stroke-width="0.9" opacity="0.85"/>
<path d="M577.0 339.8C574.8 338.5 573.8 338.8 570.4 336.0C567.0 333.3 568.0 333.1 566.8 331.6" fill="none" stroke="#c73b1e" stroke-width="0.8" opacity="0.8"/>
<path d="M587.8 346.6C588.3 345.0 589.6 345.0 589.4 341.9C589.1 338.8 587.4 340.1 586.9 337.3C586.5 334.5 587.7 334.7 588.0 333.4" fill="none" stroke="#c73b1e" stroke-width="0.9" opacity="0.85"/>
<path d="M588.9 341.2C586.6 339.9 585.6 340.2 582.1 337.3C578.6 334.5 579.6 334.2 578.3 332.6" fill="none" stroke="#c73b1e" stroke-width="0.8" opacity="0.8"/>
<path d="M598.4 346.6C598.9 344.7 600.2 344.7 599.8 341.0C599.4 337.3 597.8 338.9 597.2 335.6C596.6 332.2 597.8 332.5 598.1 330.9" fill="none" stroke="#c73b1e" stroke-width="0.9" opacity="0.85"/>
<path d="M599.3 340.2C597.3 339.0 596.4 339.3 593.2 336.6C590.0 334.0 590.8 333.7 589.7 332.3" fill="none" stroke="#c73b1e" stroke-width="0.8" opacity="0.8"/>
<path d="M609.5 346.6C609.7 344.2 611.2 344.2 610.2 339.5C609.3 334.8 607.8 336.8 606.7 332.5C605.5 328.2 606.8 328.6 606.9 326.6" fill="none" stroke="#c73b1e" stroke-width="0.9" opacity="0.85"/>
<path d="M609.7 338.5C608.6 337.8 608.2 337.9 606.4 336.3C604.6 334.8 605.0 334.6 604.3 333.8" fill="none" stroke="#c73b1e" stroke-width="0.8" opacity="0.8"/>
<path d="M620.4 346.6C620.8 344.3 622.2 344.2 621.6 339.7C621.0 335.1 619.4 337.1 618.7 332.9C617.9 328.7 619.1 329.1 619.4 327.1" fill="none" stroke="#c73b1e" stroke-width="0.9" opacity="0.85"/>
<path d="M621.1 338.7C619.3 337.6 618.5 337.8 615.6 335.4C612.7 333.0 613.5 332.8 612.4 331.5" fill="none" stroke="#c73b1e" stroke-width="0.8" opacity="0.8"/>
<path d="M632.1 346.6C632.6 344.4 633.9 344.4 633.6 340.1C633.2 335.9 631.6 337.8 631.1 333.9C630.6 330.0 631.7 330.3 632.1 328.5" fill="none" stroke="#c73b1e" stroke-width="0.9" opacity="0.85"/>
<path d="M633.1 339.2C634.4 338.1 634.6 338.3 637.1 335.8C639.5 333.3 639.3 333.1 640.4 331.7" fill="none" stroke="#c73b1e" stroke-width="0.8" opacity="0.8"/>
<path d="M644.6 346.6C645.1 344.7 646.5 344.7 646.2 341.0C645.9 337.3 644.3 338.9 643.8 335.5C643.4 332.1 644.6 332.4 644.9 330.8" fill="none" stroke="#c73b1e" stroke-width="0.9" opacity="0.85"/>
<path d="M645.7 340.2C643.4 338.8 642.4 339.1 638.8 336.2C635.2 333.3 636.2 333.0 635.0 331.4" fill="none" stroke="#c73b1e" stroke-width="0.8" opacity="0.8"/>
</g>
<circle cx="412.8" cy="304.4" r="24.6" fill="none" stroke="#c1272d" stroke-width="1.1"/>
<path d="M438.6 241 L414.6 300.6" stroke="#1a1a1a" stroke-width="1.1"/>
<path d="M207 263 L183.8 308.6" stroke="#1a1a1a" stroke-width="1.1"/>
<text x="9.2" y="56.7" font-size="12.60" fill="#1c1c1c" font-weight="normal" text-anchor="start" textLength="45.5" lengthAdjust="spacingAndGlyphs" stroke="#1c1c1c" stroke-width="0.3">Normal</text>
<text x="9.2" y="75.3" font-size="12.60" fill="#1c1c1c" font-weight="normal" text-anchor="start" textLength="55.2" lengthAdjust="spacingAndGlyphs" stroke="#1c1c1c" stroke-width="0.3">drainage</text>
<text x="9.2" y="93.3" font-size="12.60" fill="#1c1c1c" font-weight="normal" text-anchor="start" textLength="49.6" lengthAdjust="spacingAndGlyphs" stroke="#1c1c1c" stroke-width="0.3">channel</text>
<text x="258.2" y="56.7" font-size="12.60" fill="#1c1c1c" font-weight="normal" text-anchor="start" textLength="48.8" lengthAdjust="spacingAndGlyphs" stroke="#1c1c1c" stroke-width="0.3">Blocked</text>
<text x="254.7" y="75.3" font-size="12.60" fill="#1c1c1c" font-weight="normal" text-anchor="start" textLength="55.5" lengthAdjust="spacingAndGlyphs" stroke="#1c1c1c" stroke-width="0.3">drainage</text>
<text x="259.2" y="93.3" font-size="12.60" fill="#1c1c1c" font-weight="normal" text-anchor="start" textLength="49.9" lengthAdjust="spacingAndGlyphs" stroke="#1c1c1c" stroke-width="0.3">channel</text>
<text x="496.0" y="100.8" font-size="33.50" fill="#77787b" font-weight="bold" text-anchor="start" textLength="168.0" lengthAdjust="spacingAndGlyphs">Glaucoma</text>
<text x="82.3" y="180.0" font-size="12.70" fill="#6d6e71" font-weight="normal" text-anchor="start" textLength="45.4" lengthAdjust="spacingAndGlyphs">Normal</text>
<text x="319.6" y="180.3" font-size="12.70" fill="#6d6e71" font-weight="normal" text-anchor="start" textLength="62.6" lengthAdjust="spacingAndGlyphs">Glaucoma</text>
<text x="94.2" y="285.8" font-size="11.60" fill="#1c1c1c" font-weight="normal" text-anchor="start" textLength="45.4" lengthAdjust="spacingAndGlyphs" stroke="#1c1c1c" stroke-width="0.3">Vitreous</text>
<text x="100.6" y="301.9" font-size="11.60" fill="#1c1c1c" font-weight="normal" text-anchor="start" textLength="33.3" lengthAdjust="spacingAndGlyphs" stroke="#1c1c1c" stroke-width="0.3">cavity</text>
<text x="199.6" y="247.3" font-size="8.80" fill="#1c1c1c" font-weight="normal" text-anchor="start" textLength="22.6" lengthAdjust="spacingAndGlyphs" stroke="#1c1c1c" stroke-width="0.25">Optic</text>
<text x="199.2" y="259.0" font-size="8.80" fill="#1c1c1c" font-weight="normal" text-anchor="start" textLength="23.4" lengthAdjust="spacingAndGlyphs" stroke="#1c1c1c" stroke-width="0.25">nerve</text>
<text x="319.9" y="287.0" font-size="11.60" fill="#1c1c1c" font-weight="normal" text-anchor="start" textLength="46.3" lengthAdjust="spacingAndGlyphs" stroke="#1c1c1c" stroke-width="0.3">Pressure</text>
<text x="320.2" y="303.3" font-size="11.60" fill="#1c1c1c" font-weight="normal" text-anchor="start" textLength="43.3" lengthAdjust="spacingAndGlyphs" stroke="#1c1c1c" stroke-width="0.3">buildup</text>
<text x="416.2" y="226.3" font-size="8.80" fill="#1c1c1c" font-weight="normal" text-anchor="start" textLength="46.3" lengthAdjust="spacingAndGlyphs" stroke="#1c1c1c" stroke-width="0.25">Changes in</text>
<text x="416.2" y="238.3" font-size="8.80" fill="#1c1c1c" font-weight="normal" text-anchor="start" textLength="46.8" lengthAdjust="spacingAndGlyphs" stroke="#1c1c1c" stroke-width="0.25">optic nerve</text>
</svg>
</body></html>
